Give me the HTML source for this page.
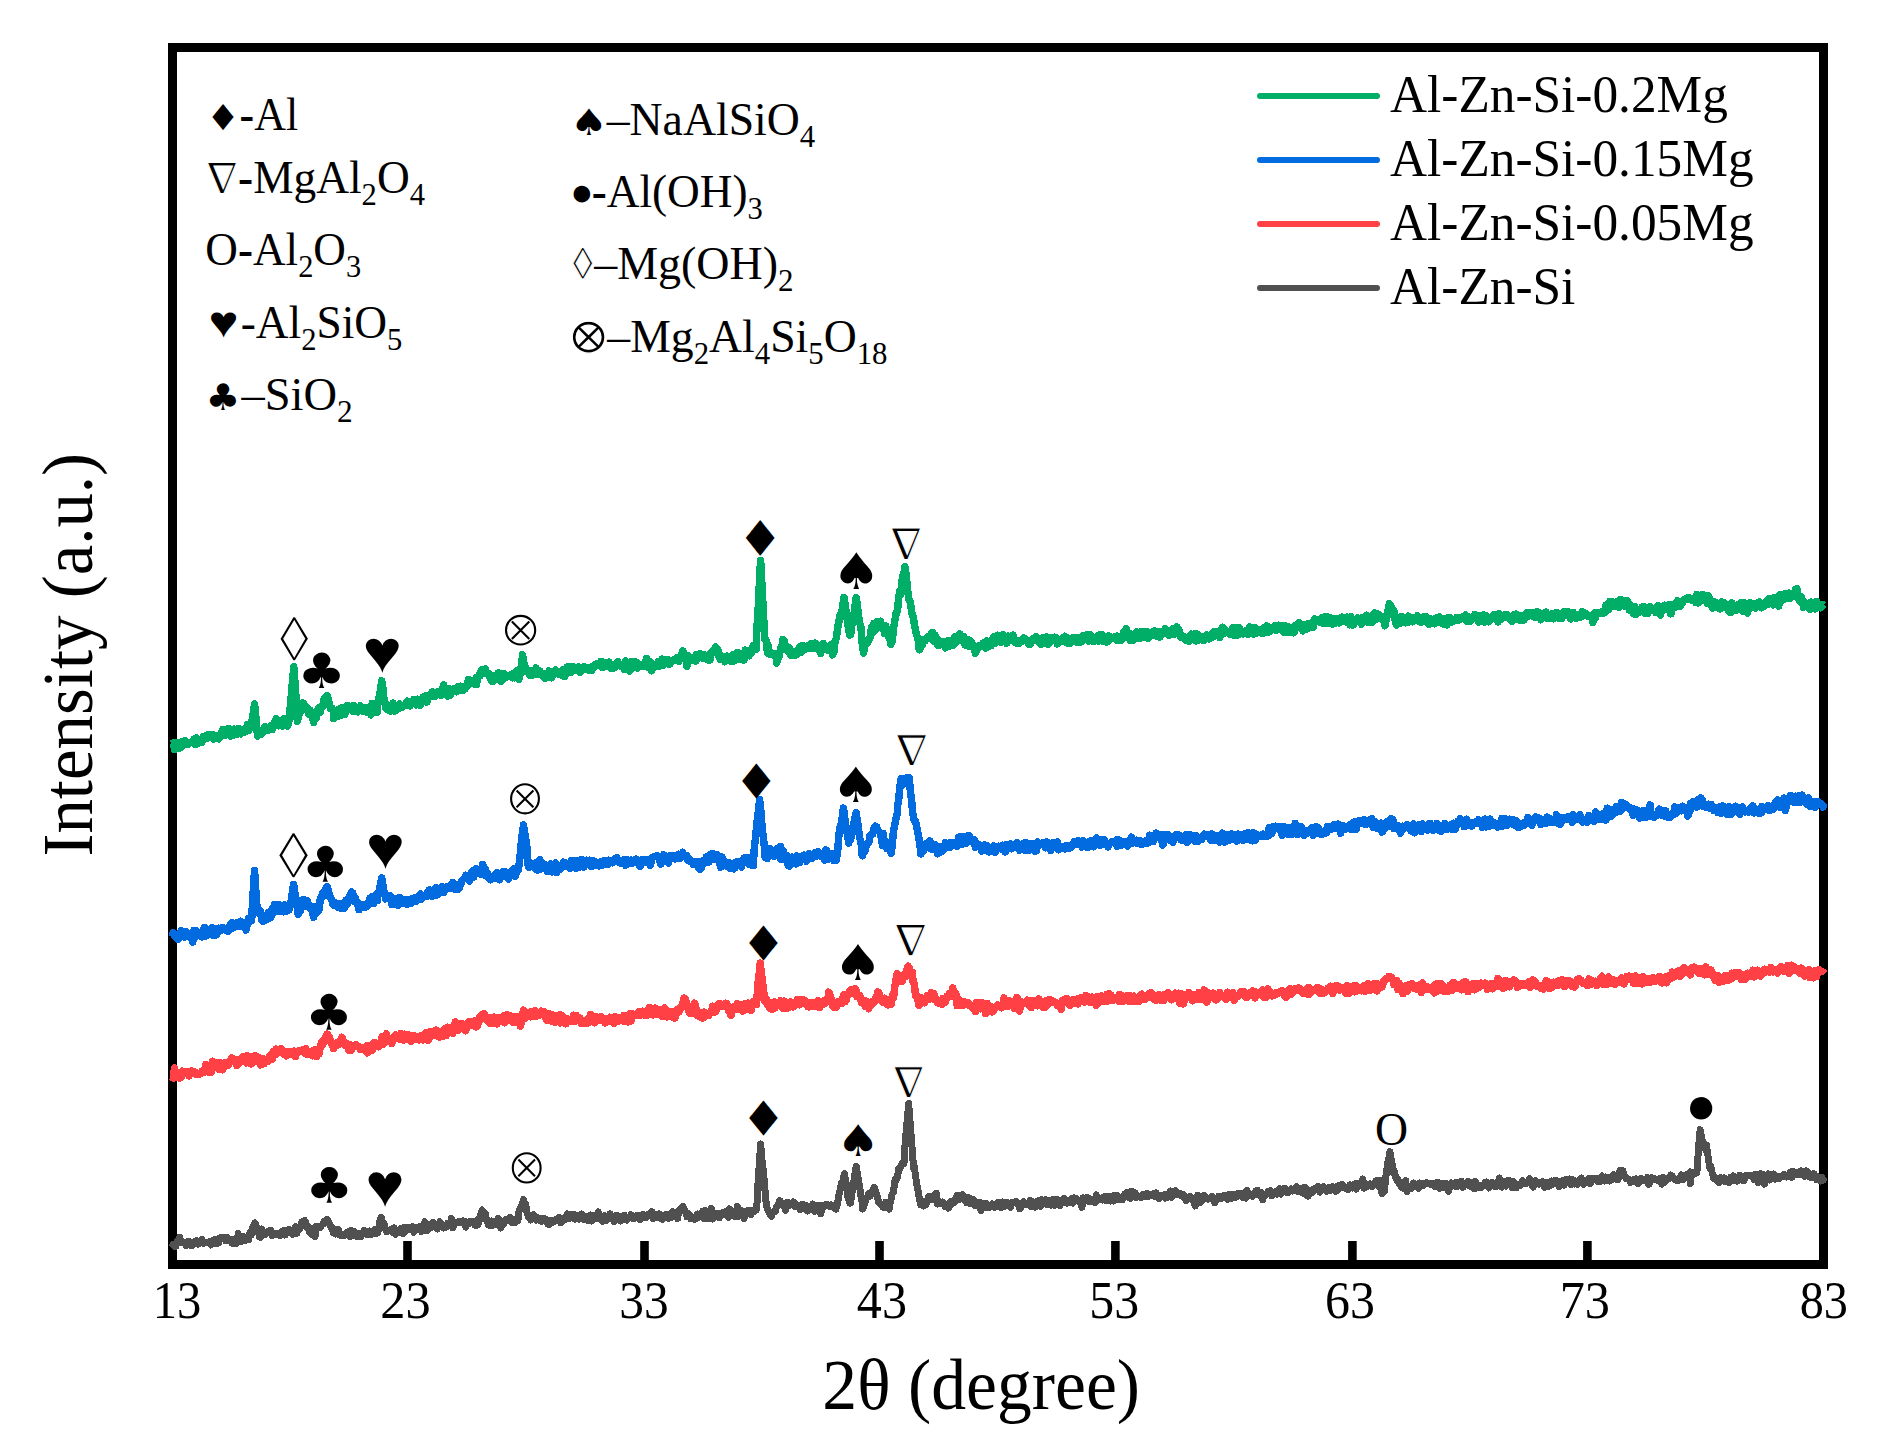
<!DOCTYPE html>
<html><head><meta charset="utf-8"><title>XRD patterns</title>
<style>html,body{margin:0;padding:0;background:#fff;overflow:hidden;}svg{display:block;}</style>
</head><body>
<svg width="1884" height="1453" viewBox="0 0 1884 1453">
<rect x="0" y="0" width="1884" height="1453" fill="#fff"/>
<rect x="172.5" y="47.5" width="1651" height="1217" fill="none" stroke="#000" stroke-width="9"/>
<path d="M172.0,1247.2 L173.3,1244.5 L174.6,1246.6 L175.9,1246.5 L177.2,1241.1 L178.5,1242.7 L179.8,1237.3 L181.1,1242.6 L182.4,1242.1 L183.7,1242.2 L185.0,1243.4 L186.3,1245.6 L187.6,1241.3 L188.9,1241.1 L190.2,1245.2 L191.5,1245.8 L192.8,1243.9 L194.1,1243.6 L195.4,1241.3 L196.7,1240.7 L198.0,1244.2 L199.3,1242.9 L200.6,1242.1 L201.9,1239.2 L203.2,1243.3 L204.5,1242.3 L205.8,1242.7 L207.1,1242.2 L208.4,1241.9 L209.7,1241.9 L211.0,1245.0 L212.3,1241.7 L212.5,1240.6 L213.6,1242.4 L214.9,1239.4 L216.2,1243.7 L217.5,1243.6 L218.8,1242.8 L220.1,1237.7 L221.4,1238.1 L222.7,1237.7 L224.0,1238.3 L225.3,1240.4 L226.6,1237.3 L227.9,1238.3 L229.2,1240.7 L230.5,1239.7 L231.8,1243.2 L233.1,1239.4 L234.4,1241.1 L235.7,1243.8 L237.0,1241.4 L238.3,1233.6 L239.6,1241.4 L240.9,1236.0 L242.2,1241.1 L243.5,1236.7 L244.8,1240.6 L246.1,1237.9 L247.4,1238.5 L248.6,1239.7 L248.7,1237.1 L250.0,1232.1 L251.3,1235.2 L252.6,1227.0 L253.9,1226.4 L254.9,1222.8 L255.2,1223.6 L256.5,1226.3 L257.8,1232.8 L259.0,1233.9 L259.1,1237.0 L260.4,1237.4 L261.7,1229.0 L263.0,1232.4 L264.3,1234.9 L265.6,1234.1 L266.9,1233.2 L268.2,1231.3 L269.5,1230.4 L270.8,1230.2 L272.1,1235.6 L273.4,1234.3 L274.7,1234.7 L276.0,1233.2 L277.3,1233.9 L278.6,1234.9 L279.9,1235.6 L281.2,1231.9 L282.5,1231.0 L283.8,1230.4 L285.1,1235.0 L286.4,1231.2 L287.7,1229.8 L289.0,1229.3 L290.3,1232.1 L291.6,1231.7 L292.9,1234.3 L294.2,1231.7 L295.5,1226.6 L296.8,1233.6 L297.4,1227.4 L298.1,1229.5 L299.4,1229.5 L300.7,1227.1 L302.0,1221.7 L303.3,1223.2 L304.6,1220.8 L304.8,1220.7 L305.9,1223.2 L307.2,1227.9 L308.5,1226.4 L309.8,1232.5 L311.1,1234.2 L311.2,1231.5 L312.4,1228.9 L313.7,1230.7 L315.0,1236.8 L316.3,1226.6 L317.6,1228.2 L318.9,1226.2 L320.2,1227.8 L321.5,1225.4 L322.8,1224.4 L324.1,1221.1 L325.4,1221.8 L326.7,1220.3 L327.1,1219.6 L328.0,1220.7 L329.3,1223.9 L330.6,1226.0 L331.9,1229.0 L333.2,1228.2 L333.5,1233.0 L334.5,1230.8 L335.8,1233.9 L337.1,1232.3 L338.4,1229.3 L339.7,1235.0 L341.0,1235.3 L342.3,1234.3 L343.6,1235.4 L344.9,1235.3 L346.2,1232.7 L347.5,1233.1 L348.8,1231.7 L350.1,1236.5 L351.4,1230.4 L352.7,1231.8 L354.0,1231.3 L355.3,1236.0 L356.6,1236.6 L357.9,1233.7 L359.2,1236.7 L360.5,1233.9 L361.0,1236.7 L361.8,1234.4 L363.1,1234.0 L364.4,1230.3 L365.7,1232.1 L367.0,1234.6 L368.3,1232.4 L369.6,1231.0 L370.9,1234.8 L372.2,1232.4 L373.5,1233.8 L374.8,1229.4 L376.1,1233.9 L377.4,1230.4 L377.5,1233.1 L378.7,1229.8 L380.0,1220.2 L381.3,1217.5 L382.6,1222.2 L383.9,1223.4 L385.2,1228.7 L386.5,1231.8 L386.6,1231.7 L387.8,1230.4 L389.1,1230.9 L390.4,1230.3 L391.7,1229.0 L393.0,1232.7 L394.3,1227.9 L395.6,1234.4 L396.9,1232.3 L398.2,1230.3 L399.5,1231.9 L400.8,1228.6 L402.1,1233.0 L403.4,1233.6 L404.7,1227.3 L406.0,1230.8 L407.3,1228.0 L408.6,1227.8 L409.9,1229.8 L411.2,1227.2 L412.5,1226.8 L413.8,1232.3 L415.1,1227.2 L416.4,1228.9 L417.7,1228.6 L419.0,1229.4 L420.3,1226.5 L421.6,1231.6 L422.9,1228.4 L424.2,1226.3 L424.8,1221.7 L425.5,1226.7 L426.8,1230.7 L428.1,1229.8 L429.4,1224.8 L430.7,1225.0 L432.0,1227.2 L433.3,1222.3 L434.6,1224.5 L435.9,1227.5 L437.2,1228.9 L438.5,1227.2 L439.8,1221.7 L441.1,1226.6 L442.4,1224.7 L443.7,1228.0 L445.0,1226.9 L446.3,1227.2 L447.6,1223.4 L448.9,1223.9 L450.2,1225.5 L451.5,1218.3 L452.8,1227.8 L454.1,1223.5 L455.4,1223.3 L456.7,1222.5 L458.0,1223.0 L459.3,1221.1 L460.6,1221.7 L461.9,1222.8 L463.2,1220.9 L464.5,1223.7 L465.8,1227.2 L467.1,1222.0 L468.4,1224.1 L469.7,1221.4 L471.0,1221.2 L472.3,1222.4 L473.6,1221.3 L474.9,1225.2 L476.2,1225.0 L477.5,1225.1 L477.9,1219.8 L478.8,1223.1 L480.1,1217.1 L481.4,1212.4 L482.1,1210.0 L482.7,1210.8 L484.0,1215.7 L485.3,1213.6 L486.6,1220.7 L487.9,1221.9 L488.5,1225.0 L489.2,1223.2 L490.5,1225.6 L491.8,1221.0 L493.1,1225.3 L494.4,1221.4 L495.7,1224.7 L497.0,1221.4 L498.3,1218.5 L499.6,1221.8 L500.9,1228.0 L502.2,1221.2 L503.5,1224.1 L504.8,1221.7 L506.1,1219.7 L507.4,1220.6 L508.7,1220.0 L510.0,1217.5 L511.3,1222.3 L512.6,1219.0 L513.9,1222.7 L515.2,1222.8 L516.5,1219.2 L517.8,1220.8 L518.2,1218.5 L519.1,1210.8 L520.4,1208.0 L521.7,1205.7 L523.0,1201.1 L523.5,1199.4 L524.3,1202.8 L525.6,1204.1 L526.9,1211.7 L528.2,1215.9 L528.8,1217.6 L529.5,1217.1 L530.8,1219.9 L532.1,1217.2 L533.4,1214.8 L534.7,1217.4 L536.0,1220.1 L537.3,1217.3 L538.6,1218.3 L539.9,1220.7 L541.2,1221.4 L542.5,1218.5 L543.8,1218.4 L545.1,1220.7 L546.4,1219.8 L547.7,1224.0 L549.0,1224.5 L550.3,1221.2 L551.6,1220.2 L552.2,1221.7 L552.9,1222.1 L554.2,1221.8 L555.5,1220.2 L556.8,1219.0 L558.1,1219.8 L559.4,1217.5 L560.7,1222.9 L562.0,1220.4 L563.3,1218.8 L564.6,1219.9 L565.9,1217.7 L567.2,1213.9 L568.5,1216.0 L569.1,1214.6 L569.8,1218.3 L571.1,1215.0 L572.4,1215.3 L573.7,1214.2 L575.0,1219.2 L576.3,1215.6 L577.6,1215.8 L578.9,1219.2 L580.2,1218.7 L581.5,1213.9 L582.8,1215.0 L584.1,1219.4 L585.4,1216.6 L586.7,1219.6 L588.0,1220.9 L589.3,1216.3 L590.6,1215.1 L591.9,1221.0 L593.2,1215.4 L594.5,1215.2 L595.8,1218.4 L597.1,1218.6 L598.4,1211.9 L599.7,1218.3 L601.0,1217.7 L602.3,1220.3 L602.5,1221.4 L603.6,1219.3 L604.9,1215.6 L606.2,1220.9 L607.5,1219.1 L608.8,1218.0 L610.1,1213.8 L611.4,1218.8 L612.7,1218.7 L614.0,1221.4 L615.3,1219.4 L616.6,1215.3 L617.9,1218.6 L619.2,1216.5 L620.5,1221.1 L621.8,1217.1 L623.1,1219.7 L624.4,1215.3 L625.7,1217.3 L627.0,1220.0 L628.3,1217.5 L629.6,1217.6 L630.9,1214.8 L632.2,1215.9 L633.5,1218.7 L634.8,1218.2 L636.1,1216.3 L637.4,1215.3 L638.7,1215.8 L640.0,1219.5 L641.3,1216.4 L642.6,1214.4 L643.9,1214.6 L645.2,1217.9 L646.5,1217.6 L647.8,1214.5 L649.1,1213.8 L650.4,1215.9 L651.7,1211.5 L653.0,1218.7 L654.3,1217.2 L655.5,1214.2 L655.6,1216.6 L656.9,1216.7 L658.2,1217.5 L659.5,1213.9 L660.8,1218.3 L662.1,1219.4 L663.4,1217.3 L664.7,1216.1 L666.0,1214.6 L667.3,1217.3 L668.6,1218.5 L669.9,1214.5 L671.2,1217.9 L672.5,1211.7 L673.8,1215.1 L675.1,1212.2 L676.4,1212.0 L677.7,1218.6 L678.0,1215.4 L679.0,1210.2 L680.3,1209.5 L681.6,1208.3 L682.8,1206.5 L682.9,1206.6 L684.2,1208.8 L685.5,1211.9 L686.8,1214.6 L687.0,1216.8 L688.1,1213.5 L689.4,1214.7 L690.7,1218.8 L692.0,1217.3 L693.3,1217.3 L694.6,1219.4 L695.9,1218.7 L697.2,1214.0 L698.5,1217.5 L699.8,1215.4 L701.1,1216.7 L702.4,1211.5 L703.7,1218.2 L705.0,1210.5 L706.3,1214.4 L707.6,1218.7 L708.9,1214.3 L710.2,1217.8 L711.5,1208.5 L712.8,1219.0 L714.1,1213.0 L715.4,1213.1 L716.7,1216.2 L718.0,1214.4 L719.3,1217.9 L720.6,1213.2 L721.9,1215.4 L723.2,1212.2 L724.5,1214.3 L725.8,1211.8 L727.1,1214.8 L728.4,1217.3 L729.7,1208.9 L731.0,1213.9 L732.3,1211.2 L733.6,1216.0 L734.9,1211.9 L736.2,1216.8 L737.5,1206.4 L738.8,1216.5 L740.1,1209.9 L741.4,1213.1 L742.7,1214.6 L744.0,1218.7 L745.3,1211.4 L746.6,1212.2 L747.9,1210.1 L749.2,1210.2 L750.5,1210.8 L751.1,1214.6 L751.8,1210.5 L753.1,1211.9 L754.4,1211.7 L755.7,1208.5 L756.4,1209.9 L757.0,1203.1 L758.3,1177.4 L759.6,1160.3 L760.6,1143.9 L760.9,1147.0 L762.2,1161.7 L763.5,1172.4 L764.8,1187.9 L766.1,1202.3 L767.0,1207.9 L767.4,1209.2 L768.7,1211.4 L770.0,1214.6 L771.3,1216.3 L772.3,1212.3 L772.6,1212.9 L773.9,1212.4 L775.2,1211.5 L776.5,1206.9 L777.8,1205.6 L779.1,1201.9 L779.7,1200.5 L780.4,1201.9 L781.7,1202.6 L783.0,1206.0 L784.3,1204.8 L785.6,1210.4 L786.9,1202.4 L788.2,1202.4 L789.5,1205.3 L790.8,1204.3 L792.1,1204.5 L793.4,1201.9 L794.7,1206.5 L796.0,1207.0 L797.3,1204.9 L798.6,1205.9 L799.9,1209.5 L801.2,1208.3 L802.5,1204.2 L803.8,1208.4 L805.1,1209.4 L806.4,1205.6 L807.7,1211.0 L809.0,1207.5 L810.3,1207.9 L811.6,1207.9 L812.9,1204.0 L814.2,1207.1 L814.8,1211.4 L815.5,1205.6 L816.8,1205.4 L818.1,1208.6 L819.4,1205.6 L820.7,1213.8 L822.0,1209.5 L823.3,1205.4 L824.6,1206.6 L825.9,1204.5 L827.2,1204.6 L828.5,1205.5 L829.8,1206.5 L831.1,1204.9 L832.4,1206.1 L833.7,1207.3 L835.0,1205.8 L836.0,1209.1 L836.3,1207.0 L837.6,1203.3 L838.9,1194.7 L840.2,1189.7 L841.5,1182.4 L842.8,1181.5 L844.1,1175.1 L844.5,1173.6 L845.4,1179.3 L846.7,1186.1 L848.0,1197.8 L849.3,1201.6 L849.8,1203.1 L850.6,1203.0 L851.9,1192.6 L853.2,1187.4 L854.5,1175.9 L855.8,1169.2 L856.2,1166.2 L857.1,1172.2 L858.4,1179.3 L859.7,1187.0 L861.0,1197.1 L862.3,1202.2 L862.5,1209.1 L863.6,1206.9 L864.9,1202.8 L866.2,1198.8 L867.5,1196.6 L868.8,1193.3 L870.1,1196.0 L871.4,1193.0 L872.7,1190.3 L874.0,1187.8 L874.2,1187.4 L875.3,1190.8 L876.6,1194.8 L877.9,1198.7 L878.5,1201.9 L879.2,1202.9 L880.5,1204.2 L881.8,1204.2 L883.1,1207.4 L884.4,1207.4 L885.7,1202.4 L887.0,1206.7 L888.3,1206.9 L889.1,1209.1 L889.6,1205.2 L890.9,1200.4 L892.2,1193.8 L893.5,1191.9 L894.8,1181.0 L895.5,1179.1 L896.1,1180.6 L897.4,1177.3 L898.7,1168.9 L900.0,1168.8 L901.3,1165.0 L902.6,1162.6 L903.9,1162.7 L904.0,1163.4 L905.2,1142.1 L906.5,1127.5 L907.8,1114.3 L908.6,1103.5 L909.1,1109.5 L910.4,1125.8 L911.7,1142.8 L913.0,1160.3 L913.5,1168.0 L914.3,1166.7 L915.6,1176.0 L916.9,1185.0 L918.2,1191.1 L919.5,1199.6 L920.8,1204.7 L921.0,1204.2 L922.1,1205.3 L923.4,1206.0 L924.7,1201.7 L926.0,1204.7 L927.3,1200.7 L928.6,1196.8 L929.9,1199.0 L931.2,1198.2 L931.5,1199.7 L932.5,1195.9 L933.8,1197.3 L935.1,1199.4 L936.4,1193.1 L937.7,1204.1 L939.0,1203.3 L940.3,1203.8 L941.6,1202.5 L942.9,1202.0 L944.2,1203.6 L945.5,1206.9 L946.4,1206.7 L946.8,1204.9 L948.1,1208.1 L949.4,1206.6 L950.7,1201.5 L952.0,1203.7 L953.3,1201.5 L954.6,1202.1 L955.9,1197.7 L957.2,1195.3 L958.5,1199.9 L959.2,1198.6 L959.8,1196.9 L961.1,1195.4 L962.4,1194.8 L963.7,1197.9 L964.3,1200.0 L965.0,1198.8 L966.3,1202.5 L967.6,1197.3 L968.9,1203.2 L970.2,1198.2 L971.5,1203.3 L972.8,1199.4 L974.1,1200.5 L975.4,1205.9 L976.7,1204.3 L978.0,1202.0 L979.3,1202.1 L980.6,1208.4 L981.0,1210.7 L981.9,1204.0 L983.2,1208.2 L984.5,1203.5 L985.8,1206.6 L987.1,1204.0 L988.4,1207.9 L989.7,1206.2 L991.0,1206.8 L992.3,1203.9 L993.6,1204.3 L994.9,1207.3 L996.2,1204.3 L997.5,1202.8 L998.8,1202.1 L1000.1,1206.3 L1001.4,1207.7 L1002.7,1202.0 L1004.0,1206.8 L1005.3,1202.3 L1006.6,1202.4 L1007.9,1204.3 L1009.2,1203.5 L1010.5,1207.3 L1011.8,1202.6 L1013.1,1202.0 L1014.4,1202.8 L1015.7,1201.4 L1017.0,1202.2 L1018.3,1203.9 L1019.6,1208.7 L1020.9,1207.5 L1022.2,1204.2 L1023.5,1201.8 L1024.8,1204.5 L1026.1,1204.9 L1027.4,1203.3 L1028.7,1203.7 L1030.0,1200.6 L1031.3,1206.6 L1032.6,1205.9 L1033.9,1202.1 L1035.2,1207.2 L1036.5,1205.1 L1037.8,1200.9 L1039.1,1205.2 L1040.4,1206.4 L1041.7,1199.6 L1043.0,1201.2 L1044.3,1203.1 L1045.5,1202.2 L1045.6,1199.5 L1046.9,1204.7 L1048.2,1204.3 L1049.5,1200.7 L1050.8,1205.1 L1052.1,1203.0 L1053.4,1199.5 L1054.7,1205.3 L1056.0,1204.6 L1057.3,1199.5 L1058.6,1205.3 L1059.9,1205.5 L1061.2,1202.6 L1062.5,1200.1 L1063.8,1198.5 L1065.1,1199.7 L1066.4,1203.2 L1067.7,1203.2 L1069.0,1201.4 L1070.3,1200.2 L1071.6,1198.7 L1072.9,1203.1 L1074.2,1197.8 L1075.5,1198.2 L1076.8,1198.9 L1078.1,1200.5 L1079.4,1201.9 L1080.7,1201.3 L1082.0,1207.4 L1083.3,1197.8 L1084.6,1201.2 L1085.9,1200.6 L1087.2,1197.5 L1088.5,1201.2 L1089.8,1198.9 L1091.1,1201.6 L1092.4,1199.4 L1093.7,1200.0 L1095.0,1202.8 L1096.3,1194.9 L1097.6,1200.4 L1098.9,1199.6 L1100.2,1198.4 L1101.5,1198.0 L1102.8,1199.9 L1104.1,1198.2 L1105.4,1196.2 L1106.7,1200.9 L1108.0,1199.3 L1109.3,1196.4 L1110.6,1201.1 L1111.9,1196.9 L1113.2,1201.0 L1114.5,1195.2 L1115.8,1195.9 L1117.1,1195.4 L1118.4,1199.6 L1119.7,1199.4 L1121.0,1200.0 L1122.3,1199.9 L1123.6,1195.4 L1124.9,1194.0 L1126.2,1195.8 L1127.5,1192.3 L1128.8,1197.3 L1130.1,1198.4 L1131.4,1191.1 L1132.7,1195.1 L1134.0,1195.2 L1135.3,1192.9 L1136.3,1197.5 L1136.6,1197.5 L1137.9,1196.6 L1139.2,1196.9 L1140.5,1197.6 L1141.8,1197.2 L1143.1,1194.7 L1144.4,1195.9 L1145.7,1196.4 L1147.0,1193.3 L1148.3,1196.7 L1149.6,1194.6 L1150.9,1195.8 L1152.2,1195.7 L1153.5,1193.9 L1154.8,1196.5 L1156.1,1192.8 L1157.4,1197.0 L1158.7,1198.8 L1160.0,1196.7 L1161.3,1195.1 L1162.6,1195.3 L1163.9,1194.9 L1165.2,1198.1 L1166.5,1194.1 L1167.8,1197.3 L1169.1,1196.8 L1170.4,1190.9 L1171.7,1197.4 L1173.0,1194.9 L1174.3,1192.7 L1175.6,1190.5 L1176.9,1194.5 L1178.2,1194.0 L1179.5,1193.3 L1180.8,1195.3 L1182.1,1196.2 L1183.4,1194.3 L1184.7,1196.5 L1186.0,1200.9 L1187.3,1199.6 L1188.6,1198.7 L1189.9,1196.5 L1191.2,1197.7 L1192.5,1198.9 L1193.8,1202.2 L1195.1,1206.0 L1196.4,1203.0 L1197.7,1195.2 L1199.0,1201.5 L1200.3,1202.3 L1201.6,1201.1 L1202.9,1198.1 L1204.2,1195.4 L1205.5,1198.2 L1206.8,1198.6 L1208.1,1199.3 L1209.4,1198.2 L1210.7,1198.2 L1212.0,1196.5 L1213.3,1199.8 L1214.6,1202.7 L1215.9,1200.2 L1217.2,1199.8 L1218.5,1196.4 L1219.8,1197.1 L1221.1,1198.2 L1222.4,1196.0 L1223.7,1195.5 L1225.0,1195.3 L1226.3,1197.2 L1227.6,1199.3 L1228.9,1194.4 L1230.2,1195.2 L1231.5,1198.2 L1232.8,1194.2 L1234.1,1197.3 L1235.4,1197.6 L1236.7,1196.8 L1238.0,1193.3 L1239.3,1195.0 L1240.6,1193.4 L1241.9,1195.3 L1243.2,1197.8 L1244.5,1192.6 L1245.8,1198.2 L1247.1,1190.4 L1248.4,1194.3 L1249.7,1195.8 L1251.0,1194.8 L1252.3,1196.4 L1253.6,1195.1 L1254.9,1192.6 L1256.2,1190.6 L1257.5,1190.2 L1258.8,1195.3 L1260.1,1195.4 L1260.5,1196.2 L1261.4,1192.6 L1262.7,1199.7 L1264.0,1195.6 L1265.3,1195.1 L1266.6,1194.4 L1267.9,1191.5 L1269.2,1192.4 L1270.5,1190.5 L1271.8,1195.9 L1273.1,1193.9 L1274.4,1193.4 L1275.7,1191.7 L1277.0,1194.2 L1278.3,1190.9 L1279.6,1188.7 L1280.9,1194.1 L1282.2,1192.1 L1283.5,1188.9 L1284.8,1188.1 L1286.1,1190.3 L1287.4,1192.9 L1288.7,1191.8 L1290.0,1191.2 L1291.3,1188.8 L1292.6,1190.9 L1293.9,1189.8 L1295.2,1189.3 L1296.5,1186.7 L1297.8,1191.4 L1299.1,1189.2 L1300.4,1192.0 L1301.7,1188.4 L1303.0,1187.7 L1304.3,1194.0 L1305.6,1187.6 L1306.9,1189.2 L1308.2,1196.2 L1309.5,1191.0 L1310.8,1191.0 L1312.1,1192.9 L1313.4,1188.9 L1314.7,1189.2 L1316.0,1189.0 L1317.3,1186.7 L1318.6,1186.6 L1319.9,1192.2 L1321.2,1187.9 L1322.5,1187.0 L1323.8,1186.7 L1325.1,1188.8 L1326.4,1191.2 L1327.7,1189.5 L1329.0,1187.5 L1330.3,1190.4 L1331.6,1187.3 L1332.1,1187.7 L1332.9,1186.8 L1334.2,1190.2 L1335.5,1191.4 L1336.8,1191.0 L1338.1,1185.7 L1339.4,1188.6 L1340.7,1187.5 L1342.0,1184.3 L1343.3,1185.7 L1344.6,1186.8 L1345.9,1188.7 L1347.2,1187.5 L1348.5,1189.6 L1349.8,1184.8 L1351.1,1186.8 L1352.4,1188.0 L1353.7,1184.9 L1355.0,1183.7 L1356.3,1189.1 L1357.6,1183.7 L1358.9,1186.0 L1360.2,1185.4 L1361.5,1182.4 L1362.8,1179.1 L1364.1,1188.1 L1365.4,1183.5 L1366.7,1186.9 L1368.0,1185.2 L1369.3,1183.9 L1370.6,1183.9 L1371.9,1186.7 L1373.2,1184.2 L1374.5,1183.7 L1375.8,1180.9 L1377.1,1184.6 L1378.4,1186.3 L1379.7,1180.3 L1379.9,1181.5 L1381.0,1186.1 L1382.0,1193.6 L1382.3,1186.2 L1383.6,1188.6 L1384.5,1191.4 L1384.9,1186.4 L1386.2,1173.6 L1386.8,1170.8 L1387.5,1163.0 L1388.3,1160.8 L1388.8,1158.3 L1389.9,1151.6 L1390.1,1152.7 L1391.4,1161.1 L1391.6,1161.2 L1392.7,1166.0 L1393.5,1172.8 L1394.0,1170.1 L1395.3,1176.1 L1396.0,1177.9 L1396.6,1180.0 L1397.9,1179.2 L1399.1,1183.7 L1399.2,1182.2 L1400.5,1185.1 L1401.8,1187.4 L1403.1,1188.1 L1404.4,1186.0 L1405.7,1180.5 L1407.0,1191.7 L1408.3,1186.7 L1409.6,1188.0 L1410.9,1188.7 L1412.2,1187.6 L1413.5,1183.0 L1414.8,1184.3 L1416.1,1184.6 L1417.4,1184.9 L1418.7,1188.3 L1420.0,1183.0 L1421.3,1184.5 L1422.6,1183.6 L1423.9,1185.2 L1425.2,1183.4 L1426.5,1182.5 L1427.8,1183.0 L1429.1,1183.6 L1430.4,1184.5 L1431.7,1183.5 L1433.0,1183.7 L1434.3,1186.2 L1435.6,1183.0 L1436.9,1186.8 L1438.2,1182.3 L1439.5,1188.4 L1440.8,1183.9 L1442.1,1187.2 L1443.4,1183.6 L1444.7,1187.5 L1446.0,1183.5 L1447.3,1184.5 L1448.6,1191.3 L1449.9,1186.4 L1451.2,1182.8 L1452.5,1183.6 L1453.8,1183.7 L1455.1,1183.0 L1456.4,1186.9 L1457.7,1182.3 L1459.0,1183.0 L1460.3,1185.8 L1461.6,1181.3 L1462.9,1187.4 L1464.2,1184.1 L1465.5,1183.8 L1466.8,1184.1 L1468.1,1181.2 L1469.4,1186.0 L1470.7,1182.1 L1472.0,1187.2 L1473.3,1182.9 L1474.6,1188.9 L1475.5,1181.5 L1475.9,1188.1 L1477.2,1187.9 L1478.5,1187.8 L1479.8,1185.8 L1481.1,1187.5 L1482.4,1186.2 L1483.7,1185.4 L1485.0,1182.4 L1486.3,1182.0 L1487.6,1186.1 L1488.9,1187.9 L1490.2,1183.1 L1491.5,1182.5 L1492.8,1182.7 L1494.1,1185.7 L1495.4,1186.7 L1496.7,1186.1 L1498.0,1183.1 L1499.3,1178.0 L1500.6,1185.8 L1501.9,1187.1 L1503.2,1184.9 L1504.5,1181.7 L1505.8,1186.1 L1507.1,1181.0 L1508.4,1182.0 L1509.7,1180.6 L1511.0,1184.1 L1512.3,1187.9 L1513.6,1181.8 L1514.9,1183.1 L1516.2,1188.0 L1517.5,1186.1 L1518.8,1184.8 L1520.1,1185.5 L1521.4,1183.0 L1522.7,1180.7 L1524.0,1183.8 L1525.3,1183.5 L1526.6,1183.3 L1527.9,1182.3 L1529.2,1178.7 L1530.5,1180.8 L1531.8,1185.2 L1533.1,1187.0 L1534.4,1184.8 L1535.7,1180.8 L1537.0,1182.3 L1538.3,1184.0 L1539.6,1184.0 L1540.9,1183.3 L1542.2,1181.7 L1543.5,1185.3 L1544.8,1187.3 L1546.1,1184.5 L1547.4,1182.3 L1548.7,1186.6 L1550.0,1182.2 L1551.3,1181.1 L1552.6,1184.3 L1553.9,1184.0 L1555.2,1180.1 L1556.5,1183.5 L1557.8,1183.4 L1559.1,1186.5 L1560.4,1181.1 L1561.7,1181.8 L1563.0,1180.6 L1564.3,1185.2 L1565.6,1179.5 L1566.9,1180.3 L1568.2,1181.6 L1569.5,1179.0 L1570.8,1179.4 L1571.1,1184.5 L1572.1,1181.2 L1573.4,1180.0 L1574.7,1184.0 L1576.0,1181.4 L1577.3,1184.3 L1578.6,1180.7 L1579.9,1182.5 L1581.2,1178.0 L1582.5,1182.5 L1583.8,1184.2 L1585.1,1183.1 L1586.4,1182.0 L1587.7,1181.3 L1589.0,1178.2 L1590.3,1183.8 L1591.6,1179.8 L1592.9,1178.5 L1594.2,1178.1 L1595.5,1178.8 L1596.8,1180.9 L1598.1,1178.9 L1599.4,1181.9 L1600.7,1178.7 L1602.0,1176.0 L1603.3,1178.9 L1604.6,1180.9 L1605.9,1177.0 L1607.2,1177.9 L1608.5,1177.7 L1609.8,1181.0 L1611.1,1180.1 L1612.4,1178.5 L1613.7,1174.7 L1615.0,1178.6 L1616.3,1179.3 L1617.6,1179.7 L1618.8,1177.8 L1618.9,1172.9 L1620.2,1170.4 L1621.2,1170.6 L1621.5,1172.3 L1622.8,1170.6 L1624.1,1175.5 L1625.4,1177.0 L1626.7,1179.0 L1628.0,1179.1 L1629.3,1179.6 L1630.6,1182.6 L1630.8,1181.3 L1631.9,1181.9 L1633.2,1179.9 L1634.5,1181.5 L1635.8,1178.9 L1637.1,1182.5 L1638.4,1183.6 L1639.7,1181.7 L1641.0,1178.3 L1642.3,1179.6 L1643.6,1180.8 L1644.9,1180.5 L1646.2,1179.7 L1647.5,1177.3 L1648.8,1184.4 L1650.1,1182.5 L1651.4,1177.8 L1652.7,1179.3 L1654.0,1178.6 L1655.3,1179.5 L1656.6,1179.2 L1657.9,1180.4 L1659.2,1178.8 L1660.5,1179.4 L1661.8,1184.2 L1663.1,1177.5 L1664.4,1182.3 L1665.7,1178.8 L1667.0,1179.6 L1668.3,1179.0 L1669.6,1178.6 L1670.9,1175.1 L1672.2,1175.8 L1673.5,1178.1 L1674.8,1179.3 L1676.1,1179.5 L1677.4,1180.7 L1678.7,1180.4 L1680.0,1178.5 L1681.3,1174.9 L1682.6,1179.8 L1683.9,1175.5 L1685.2,1176.2 L1686.5,1175.4 L1687.8,1174.0 L1689.1,1175.5 L1690.4,1183.6 L1690.5,1171.8 L1691.7,1173.4 L1693.0,1175.0 L1694.3,1172.3 L1695.6,1171.7 L1696.5,1173.1 L1696.9,1172.7 L1698.2,1153.1 L1698.3,1149.3 L1699.5,1136.7 L1700.1,1129.8 L1700.8,1133.7 L1702.0,1138.8 L1702.1,1140.5 L1703.4,1146.7 L1704.0,1145.7 L1704.7,1147.1 L1706.0,1150.8 L1706.5,1144.9 L1707.3,1151.3 L1708.5,1158.9 L1708.6,1161.0 L1709.9,1167.8 L1710.5,1165.8 L1711.2,1168.3 L1712.5,1174.3 L1713.8,1178.5 L1714.0,1177.5 L1715.1,1177.2 L1716.4,1180.5 L1717.7,1181.6 L1719.0,1182.1 L1719.1,1182.5 L1720.3,1177.7 L1721.6,1178.2 L1722.9,1180.5 L1724.2,1177.9 L1725.5,1181.8 L1726.8,1180.7 L1728.1,1179.1 L1729.4,1182.7 L1730.7,1177.1 L1732.0,1177.6 L1733.3,1175.9 L1734.6,1180.7 L1735.9,1179.8 L1737.2,1181.1 L1738.5,1180.2 L1739.8,1175.1 L1741.1,1176.6 L1742.4,1177.8 L1743.7,1180.8 L1745.0,1177.7 L1746.3,1175.3 L1747.6,1176.1 L1748.9,1175.7 L1750.2,1175.4 L1751.5,1175.8 L1752.8,1176.9 L1754.1,1179.9 L1755.4,1174.1 L1756.7,1176.5 L1758.0,1182.8 L1759.3,1175.5 L1760.6,1173.5 L1761.9,1174.9 L1763.2,1174.2 L1764.5,1184.2 L1765.8,1178.9 L1767.1,1175.4 L1768.4,1174.0 L1769.7,1180.1 L1771.0,1176.2 L1772.3,1175.1 L1773.6,1174.0 L1774.9,1179.2 L1776.2,1176.4 L1777.5,1176.6 L1778.8,1178.6 L1780.1,1176.6 L1781.4,1176.3 L1782.7,1175.4 L1784.0,1174.1 L1785.3,1176.5 L1786.0,1175.1 L1786.6,1177.1 L1787.9,1175.4 L1789.2,1176.1 L1790.5,1172.0 L1791.8,1177.5 L1793.1,1171.4 L1794.4,1175.1 L1795.7,1173.4 L1797.0,1172.7 L1798.3,1174.8 L1799.6,1172.8 L1800.3,1171.0 L1800.9,1170.8 L1802.2,1174.4 L1803.5,1171.3 L1804.8,1176.4 L1806.1,1170.7 L1807.4,1171.9 L1808.7,1176.4 L1810.0,1175.8 L1811.3,1177.5 L1812.6,1175.4 L1813.9,1173.8 L1815.2,1175.4 L1816.5,1179.6 L1817.8,1176.6 L1819.1,1177.2 L1820.4,1181.0 L1821.7,1177.3 L1823.0,1180.2 L1824.0,1176.8" fill="none" stroke="#505050" stroke-width="7.0" stroke-linejoin="round" stroke-linecap="butt" shape-rendering="crispEdges"/>
<path d="M172.0,1076.8 L173.3,1078.0 L174.6,1067.9 L175.9,1077.5 L177.2,1073.6 L178.5,1077.9 L179.8,1077.9 L181.1,1077.2 L182.4,1071.2 L183.7,1073.2 L185.0,1073.5 L186.3,1072.1 L187.6,1071.9 L188.9,1075.9 L190.2,1072.1 L191.5,1070.7 L192.8,1072.7 L194.1,1072.0 L195.4,1074.0 L196.7,1073.1 L198.0,1074.7 L199.3,1074.0 L200.6,1073.8 L201.9,1071.1 L203.2,1072.7 L204.5,1072.0 L205.8,1064.6 L207.1,1066.8 L208.4,1072.2 L209.7,1072.4 L211.0,1072.5 L212.3,1067.4 L212.5,1061.2 L213.6,1065.7 L214.9,1064.7 L216.2,1063.3 L217.5,1062.9 L218.8,1068.9 L220.1,1062.5 L221.4,1068.6 L222.7,1069.7 L224.0,1063.9 L225.3,1062.3 L226.6,1062.6 L227.9,1065.5 L229.2,1063.3 L230.5,1060.8 L231.8,1058.0 L233.1,1061.6 L234.4,1059.8 L235.7,1060.0 L237.0,1065.5 L238.3,1064.2 L239.6,1059.5 L240.9,1062.0 L242.2,1057.2 L243.5,1056.7 L244.8,1060.8 L246.1,1062.7 L247.4,1055.6 L248.7,1061.2 L250.0,1056.5 L251.3,1063.8 L252.6,1060.5 L253.9,1061.4 L254.9,1057.5 L255.2,1055.8 L256.5,1057.3 L257.8,1057.1 L259.1,1062.2 L260.4,1064.9 L261.3,1060.0 L261.7,1064.6 L263.0,1058.5 L264.3,1063.7 L265.6,1060.2 L266.9,1059.6 L268.2,1061.3 L269.5,1056.2 L270.8,1054.7 L272.1,1059.5 L273.4,1051.5 L274.7,1051.2 L276.0,1049.2 L276.2,1054.2 L277.3,1050.2 L278.6,1052.1 L279.9,1052.5 L281.2,1048.8 L282.5,1050.3 L283.8,1054.0 L285.1,1055.0 L286.4,1055.8 L287.7,1051.9 L289.0,1053.5 L290.3,1051.6 L291.6,1053.8 L292.9,1054.9 L294.2,1051.1 L295.5,1056.7 L296.8,1052.1 L298.1,1051.1 L299.4,1050.9 L300.7,1051.2 L302.0,1050.3 L303.3,1052.1 L304.6,1053.1 L305.9,1048.7 L307.2,1054.1 L308.5,1052.3 L309.8,1052.3 L311.1,1051.4 L312.4,1055.8 L313.7,1053.6 L315.0,1049.6 L316.3,1056.7 L317.6,1054.3 L318.6,1051.7 L318.9,1053.9 L320.2,1048.0 L321.5,1042.2 L322.8,1044.2 L324.1,1039.5 L325.4,1038.1 L326.7,1035.3 L327.1,1034.1 L328.0,1035.5 L329.3,1037.1 L330.6,1041.3 L331.9,1044.7 L333.2,1046.3 L333.5,1048.7 L334.5,1046.6 L335.8,1043.4 L337.1,1042.9 L338.4,1044.7 L339.7,1042.4 L341.0,1039.9 L342.0,1037.3 L342.3,1038.3 L343.6,1043.0 L344.9,1045.1 L346.2,1043.3 L347.5,1046.0 L348.8,1050.2 L350.1,1044.8 L351.4,1050.1 L352.7,1047.4 L354.0,1046.6 L355.3,1044.9 L356.6,1045.0 L357.9,1046.2 L359.2,1047.0 L360.5,1049.4 L361.8,1048.5 L363.1,1048.1 L364.4,1049.5 L365.7,1051.2 L367.0,1045.7 L367.5,1052.9 L368.3,1045.8 L369.6,1048.6 L370.9,1045.2 L372.2,1050.4 L373.5,1043.0 L374.8,1042.7 L376.1,1046.3 L377.4,1045.1 L378.7,1046.7 L380.0,1044.9 L381.3,1041.2 L382.3,1036.4 L382.6,1043.3 L383.9,1043.8 L385.2,1037.2 L386.5,1033.8 L387.8,1040.9 L389.1,1040.2 L390.4,1040.0 L391.7,1043.4 L393.0,1037.8 L394.3,1037.2 L395.6,1035.0 L396.9,1038.4 L398.2,1035.3 L399.5,1038.9 L400.8,1033.4 L402.1,1039.8 L403.4,1040.0 L404.7,1034.3 L406.0,1039.3 L407.3,1034.3 L408.6,1039.1 L409.9,1036.1 L411.2,1041.6 L412.5,1035.5 L413.8,1039.3 L415.1,1036.1 L416.4,1037.7 L417.7,1036.6 L419.0,1040.0 L420.3,1036.0 L421.6,1037.6 L422.9,1039.9 L424.2,1035.3 L424.8,1038.6 L425.5,1033.0 L426.8,1036.5 L428.1,1040.1 L429.4,1037.7 L430.7,1031.5 L432.0,1033.1 L433.3,1031.5 L434.6,1035.4 L435.9,1030.2 L437.2,1031.4 L438.5,1036.7 L439.8,1037.0 L441.1,1032.1 L442.4,1033.3 L443.7,1036.0 L445.0,1028.8 L446.3,1035.6 L447.6,1027.2 L448.9,1031.9 L450.2,1029.3 L451.5,1027.9 L452.8,1033.3 L454.1,1028.6 L455.4,1022.0 L456.7,1024.3 L458.0,1030.1 L459.3,1029.3 L460.6,1023.8 L461.9,1023.4 L463.2,1028.9 L464.5,1027.9 L465.8,1030.7 L467.1,1024.7 L468.4,1022.1 L469.7,1024.6 L471.0,1021.8 L472.3,1025.6 L473.6,1022.9 L474.9,1020.7 L475.7,1023.6 L476.2,1026.9 L477.5,1025.7 L478.8,1018.6 L480.1,1016.2 L481.4,1019.4 L482.7,1014.7 L483.2,1014.0 L484.0,1013.7 L485.3,1018.0 L486.6,1020.3 L487.9,1020.9 L489.2,1022.9 L490.5,1017.3 L491.8,1019.5 L492.7,1021.1 L493.1,1023.6 L494.4,1017.1 L495.7,1020.5 L497.0,1024.0 L498.3,1018.1 L499.6,1020.0 L500.9,1017.8 L502.2,1017.6 L503.5,1015.8 L504.8,1022.8 L506.1,1017.9 L507.4,1014.8 L508.7,1018.0 L509.7,1020.4 L510.0,1015.6 L511.3,1016.5 L512.6,1021.8 L513.9,1018.5 L515.2,1022.3 L516.5,1016.7 L517.8,1016.8 L519.1,1019.9 L520.3,1026.0 L520.4,1021.9 L521.7,1022.0 L523.0,1013.7 L523.5,1010.1 L524.3,1019.0 L525.6,1012.1 L526.9,1012.4 L528.2,1016.1 L529.5,1014.0 L530.8,1016.7 L532.1,1011.3 L533.4,1011.4 L534.7,1016.7 L535.2,1010.7 L536.0,1012.7 L537.3,1015.8 L538.6,1015.7 L539.9,1012.3 L541.2,1011.2 L542.5,1012.3 L543.8,1011.5 L545.1,1016.6 L546.4,1020.0 L547.7,1020.1 L549.0,1013.8 L550.3,1014.2 L551.6,1020.7 L552.2,1021.3 L552.9,1014.8 L554.2,1018.8 L555.5,1022.3 L556.8,1016.6 L558.1,1015.6 L559.4,1016.9 L560.0,1014.8 L560.7,1022.9 L562.0,1015.6 L563.3,1017.4 L564.6,1017.9 L565.9,1023.8 L567.2,1019.0 L568.5,1019.9 L569.8,1021.4 L571.1,1021.6 L572.4,1019.2 L573.7,1015.2 L575.0,1021.3 L576.3,1015.4 L577.6,1018.1 L578.9,1017.8 L580.2,1018.1 L581.5,1023.4 L582.8,1021.9 L584.1,1021.6 L585.4,1020.4 L586.7,1023.5 L588.0,1022.9 L589.3,1020.4 L590.6,1014.3 L591.9,1021.2 L593.2,1017.8 L594.5,1022.8 L595.8,1016.4 L597.1,1017.2 L598.4,1017.9 L599.7,1020.4 L601.0,1016.6 L602.3,1020.2 L603.6,1018.3 L604.9,1022.9 L606.2,1018.6 L607.5,1021.9 L608.8,1020.9 L610.1,1017.3 L611.4,1021.3 L612.7,1020.0 L614.0,1023.4 L615.3,1016.7 L616.6,1018.9 L617.9,1021.5 L619.2,1018.4 L620.5,1017.5 L621.8,1019.5 L623.1,1017.8 L623.7,1015.7 L624.4,1021.5 L625.7,1016.2 L627.0,1019.1 L628.3,1021.9 L629.6,1014.0 L630.9,1021.2 L632.2,1013.5 L633.5,1014.4 L634.8,1014.6 L636.1,1015.4 L637.4,1015.6 L638.7,1012.0 L640.0,1011.6 L641.3,1014.8 L642.6,1011.3 L643.9,1013.8 L645.2,1015.6 L646.5,1011.9 L647.8,1015.0 L649.1,1007.9 L650.4,1011.9 L651.3,1008.0 L651.7,1012.9 L653.0,1014.8 L654.3,1014.4 L655.6,1008.1 L656.9,1014.7 L658.2,1009.4 L659.5,1009.9 L660.8,1013.2 L662.1,1016.1 L663.4,1013.9 L664.7,1008.1 L666.0,1011.3 L667.3,1016.9 L668.6,1015.6 L669.9,1013.8 L671.2,1012.0 L672.5,1014.6 L673.8,1018.0 L675.1,1017.8 L676.4,1010.2 L677.7,1012.5 L678.9,1010.6 L679.0,1011.8 L680.3,1007.1 L681.6,1007.5 L682.9,1002.6 L684.2,998.1 L685.5,999.3 L686.8,1004.2 L688.1,1008.9 L689.4,1012.9 L689.5,1006.3 L690.7,1010.5 L692.0,1013.4 L693.3,1013.0 L694.6,1003.1 L695.9,1007.6 L697.2,1015.4 L698.5,1015.9 L699.8,1016.2 L701.1,1012.5 L702.4,1018.0 L703.7,1017.4 L704.4,1012.0 L705.0,1013.8 L706.3,1015.8 L707.6,1014.3 L708.9,1015.1 L710.2,1012.4 L711.5,1011.5 L712.8,1006.2 L714.1,1012.4 L715.4,1011.9 L716.7,1009.3 L718.0,1005.4 L719.2,1006.0 L719.3,1003.6 L720.6,1003.9 L721.9,1004.7 L723.2,1006.6 L724.5,1005.8 L725.8,1003.3 L727.1,1003.9 L728.4,1010.6 L729.7,1007.1 L731.0,1015.3 L732.3,1011.2 L733.6,1006.9 L734.9,1007.9 L736.2,1009.6 L737.5,1003.6 L738.8,1009.4 L740.1,1006.1 L741.4,1004.5 L742.7,1010.9 L744.0,1010.6 L745.3,1003.8 L746.6,1008.9 L747.9,1003.2 L749.2,1004.0 L750.5,1009.7 L751.1,1010.5 L751.8,1004.3 L753.1,1001.6 L754.4,1001.5 L755.7,1003.5 L756.4,1004.6 L757.0,997.9 L758.3,981.0 L759.6,970.2 L760.2,963.1 L760.9,969.4 L762.2,979.7 L763.5,990.3 L764.8,1000.9 L764.9,1000.3 L766.1,998.7 L767.4,1004.8 L768.7,1003.6 L770.0,1008.4 L771.3,1005.4 L772.3,1009.6 L772.6,1002.4 L773.9,1002.1 L775.2,1007.8 L776.5,1003.9 L777.8,1004.1 L779.1,1003.6 L780.4,1000.9 L781.7,1005.7 L783.0,1008.5 L784.3,1001.1 L785.6,1002.4 L786.9,1008.4 L788.2,1007.7 L789.5,1005.3 L790.8,1001.9 L792.1,1003.1 L793.4,1004.7 L793.5,1007.0 L794.7,1003.3 L796.0,1003.6 L797.3,999.4 L798.6,1000.6 L799.9,1004.8 L801.2,1000.1 L802.5,1003.5 L803.8,999.9 L805.1,1003.1 L806.4,1001.6 L807.7,1006.7 L809.0,1006.9 L810.3,1002.5 L811.6,1002.4 L812.9,1005.3 L814.2,1006.4 L815.5,1004.5 L816.8,1002.5 L818.1,1000.5 L819.4,1007.7 L820.7,1004.8 L822.0,1001.4 L823.3,1004.4 L824.6,1003.7 L825.4,1000.0 L825.9,1001.5 L827.2,1001.9 L828.5,998.6 L828.6,992.1 L829.8,994.4 L831.1,998.5 L832.4,1006.0 L833.7,1007.4 L833.9,1007.4 L835.0,1006.5 L836.3,1007.2 L837.6,1001.8 L838.9,1001.9 L840.2,1001.6 L841.5,1003.4 L842.8,998.0 L844.1,994.6 L845.4,1001.5 L846.6,999.3 L846.7,994.7 L848.0,995.1 L849.3,991.1 L850.6,990.1 L851.9,992.8 L853.2,989.5 L854.5,989.5 L855.1,988.6 L855.8,989.7 L857.1,996.7 L858.4,996.0 L859.7,995.6 L861.0,999.9 L861.5,1002.5 L862.3,1000.0 L863.6,1001.8 L864.9,1006.0 L866.2,1001.0 L867.5,1005.0 L867.9,1005.7 L868.8,1008.8 L870.1,1004.1 L871.4,1004.5 L872.7,1001.5 L874.0,1002.7 L875.3,998.7 L876.6,996.6 L877.9,991.8 L878.5,999.5 L879.2,993.4 L880.5,999.1 L881.8,1001.5 L883.1,1002.4 L884.4,998.2 L885.7,1002.1 L887.0,1004.4 L888.3,1004.9 L889.6,999.5 L890.9,1001.6 L891.2,1004.2 L892.2,996.4 L893.5,998.3 L894.8,986.5 L896.1,980.3 L896.5,976.4 L897.4,973.5 L898.7,981.1 L900.0,980.5 L901.3,978.3 L901.8,981.5 L902.6,980.6 L903.9,975.5 L905.2,976.8 L906.5,970.1 L907.8,967.3 L908.2,966.3 L909.1,967.7 L910.4,972.9 L911.7,972.4 L912.4,972.4 L913.0,981.6 L914.3,984.3 L915.6,995.9 L916.9,996.1 L918.2,1001.1 L918.8,1005.3 L919.5,1004.3 L920.8,997.7 L922.1,1000.7 L923.4,999.4 L924.7,1002.7 L926.0,1000.0 L927.3,995.4 L928.6,996.3 L929.4,999.2 L929.9,994.7 L931.2,992.9 L932.5,994.9 L933.8,993.5 L935.1,999.9 L936.4,998.8 L937.7,1002.6 L939.0,1003.6 L940.3,1001.5 L941.6,1003.2 L942.2,1004.0 L942.9,998.5 L944.2,1000.1 L945.5,1002.2 L946.8,996.7 L948.1,997.1 L949.4,993.6 L950.7,994.8 L952.0,996.1 L952.8,988.1 L953.3,995.6 L954.6,992.5 L955.9,994.2 L957.2,1005.7 L958.5,1002.9 L959.6,1000.1 L959.8,1003.6 L961.1,1005.5 L962.4,1005.5 L963.7,1004.8 L965.0,1002.0 L966.3,1003.0 L967.6,1004.6 L968.9,1003.3 L970.2,1004.7 L971.5,1007.1 L972.8,1005.6 L974.1,1006.5 L975.4,1011.7 L976.7,1002.3 L978.0,1007.3 L979.3,1004.7 L980.6,1006.4 L981.0,1008.8 L981.9,1002.4 L983.2,1003.3 L984.5,1005.8 L985.8,1013.7 L987.1,1003.3 L988.4,1009.6 L989.7,1008.1 L991.0,1006.5 L992.3,1012.0 L993.6,1010.2 L994.9,1008.5 L996.2,1006.8 L997.5,1004.9 L998.8,1005.3 L1000.1,1006.6 L1001.4,1007.6 L1002.7,1005.6 L1004.0,997.9 L1005.3,1004.8 L1006.6,1006.2 L1007.9,1006.2 L1009.2,1000.7 L1010.5,1003.7 L1011.8,1001.8 L1013.1,1004.3 L1014.4,1008.3 L1015.7,1006.5 L1017.0,997.3 L1018.3,1001.0 L1019.6,1011.0 L1020.9,1001.6 L1022.2,1002.9 L1023.5,1003.4 L1024.8,1003.7 L1026.1,1002.4 L1027.4,1000.2 L1028.7,1001.8 L1030.0,1006.7 L1031.3,1007.5 L1032.6,1000.4 L1033.9,1005.7 L1035.2,1000.5 L1036.5,1002.4 L1037.8,1005.7 L1039.1,999.1 L1040.4,1005.1 L1041.7,1001.6 L1043.0,1007.0 L1044.3,1006.5 L1045.5,1007.2 L1045.6,1001.0 L1046.9,1001.7 L1048.2,1004.6 L1049.5,999.5 L1050.8,1001.9 L1052.1,1002.7 L1053.4,1001.2 L1054.7,1002.2 L1056.0,1002.5 L1057.3,1005.4 L1058.6,1004.6 L1059.9,1005.0 L1061.2,1009.4 L1062.5,1000.2 L1063.8,1000.4 L1065.1,1000.5 L1066.4,998.5 L1067.7,1003.1 L1069.0,1000.4 L1070.3,1005.2 L1071.6,1004.1 L1072.9,999.7 L1074.2,1001.5 L1075.5,1003.0 L1076.8,999.1 L1078.1,1003.9 L1079.4,1000.7 L1080.7,997.9 L1082.0,1001.1 L1083.3,1000.7 L1084.6,1001.9 L1085.9,995.5 L1087.2,1000.3 L1088.5,997.1 L1089.8,1002.3 L1091.1,997.2 L1092.4,997.2 L1093.7,1002.0 L1095.0,1002.7 L1096.3,1005.2 L1097.6,996.6 L1098.9,1002.8 L1100.2,999.3 L1101.5,996.1 L1102.8,1001.0 L1104.1,1000.3 L1105.2,1000.8 L1105.4,997.1 L1106.7,994.6 L1108.0,1000.9 L1109.3,993.9 L1110.6,994.8 L1111.9,1000.7 L1113.2,1000.5 L1114.5,997.9 L1115.8,997.9 L1117.1,997.4 L1118.4,1001.1 L1119.7,994.4 L1121.0,1000.9 L1122.3,995.6 L1123.6,1001.3 L1124.9,1000.1 L1126.2,997.5 L1127.5,995.3 L1128.8,995.5 L1130.1,1001.7 L1131.4,996.3 L1132.7,998.6 L1134.0,996.3 L1135.3,1001.3 L1136.6,1001.3 L1137.9,997.1 L1139.2,1001.2 L1140.5,996.9 L1141.8,994.2 L1143.1,996.1 L1144.4,999.7 L1145.7,997.2 L1147.0,997.2 L1148.3,994.1 L1149.6,997.6 L1150.9,992.7 L1152.2,993.6 L1153.5,998.8 L1154.8,996.4 L1156.1,1000.4 L1157.4,996.0 L1158.7,994.7 L1160.0,998.2 L1161.3,1000.3 L1162.6,1000.1 L1163.9,1000.2 L1165.0,994.4 L1165.2,998.3 L1166.5,995.9 L1167.8,992.7 L1169.1,997.3 L1170.4,996.4 L1171.7,999.8 L1173.0,994.6 L1174.3,998.4 L1175.6,993.2 L1176.9,996.8 L1178.2,993.3 L1179.5,1002.9 L1180.8,994.2 L1182.1,994.2 L1183.4,1004.0 L1184.7,997.4 L1186.0,994.5 L1187.3,995.6 L1188.6,992.5 L1189.9,994.3 L1191.2,998.0 L1192.5,1000.8 L1193.8,994.6 L1195.1,996.2 L1196.4,998.9 L1197.7,999.1 L1199.0,992.5 L1200.3,999.7 L1201.6,994.2 L1202.9,998.7 L1204.2,990.0 L1205.5,993.9 L1206.8,1002.2 L1208.1,999.3 L1209.4,993.2 L1210.7,995.5 L1212.0,993.2 L1213.3,993.2 L1214.6,998.5 L1215.9,999.9 L1217.2,999.4 L1218.5,995.3 L1219.8,992.4 L1221.1,995.6 L1222.4,996.2 L1223.7,997.1 L1225.0,998.6 L1226.3,999.4 L1227.6,992.2 L1228.9,996.3 L1230.2,996.5 L1231.5,994.2 L1232.8,992.5 L1234.1,1000.4 L1235.4,997.2 L1236.6,996.4 L1236.7,995.5 L1238.0,996.6 L1239.3,995.2 L1240.6,991.8 L1241.9,991.4 L1243.2,992.4 L1244.5,992.1 L1245.8,997.3 L1247.1,997.5 L1248.4,994.5 L1249.7,992.8 L1251.0,995.2 L1252.3,991.0 L1253.6,993.0 L1254.9,997.9 L1256.2,992.2 L1257.5,994.8 L1258.8,994.3 L1260.1,992.0 L1261.4,992.5 L1262.7,989.8 L1264.0,997.3 L1265.3,992.8 L1266.6,997.0 L1267.9,989.1 L1269.2,991.0 L1270.5,993.0 L1271.8,995.8 L1273.1,994.3 L1274.4,994.9 L1275.7,992.7 L1277.0,994.0 L1278.3,992.6 L1279.6,991.7 L1280.9,991.6 L1282.2,990.8 L1283.5,994.1 L1284.8,996.4 L1286.1,997.6 L1287.4,995.7 L1288.7,990.2 L1290.0,988.8 L1291.3,994.0 L1292.6,992.8 L1293.9,991.4 L1295.2,988.5 L1296.5,988.3 L1297.8,990.0 L1299.1,988.0 L1300.4,990.0 L1301.7,991.8 L1303.0,993.6 L1304.3,990.3 L1305.6,993.1 L1306.9,991.8 L1308.2,994.3 L1308.3,987.4 L1309.5,994.1 L1310.8,992.9 L1312.1,989.3 L1313.4,989.3 L1314.7,990.3 L1316.0,989.0 L1317.3,987.5 L1318.6,990.6 L1319.9,993.3 L1321.2,989.2 L1322.5,991.0 L1323.8,993.0 L1325.1,992.1 L1326.4,990.7 L1327.7,988.5 L1329.0,987.4 L1330.3,986.2 L1331.6,986.9 L1332.9,993.5 L1334.2,988.3 L1335.5,985.9 L1336.8,989.8 L1338.1,986.1 L1339.4,990.1 L1340.7,988.6 L1342.0,987.8 L1343.3,988.0 L1344.6,990.9 L1345.9,993.5 L1347.2,985.5 L1348.5,986.4 L1349.8,993.0 L1351.1,989.6 L1352.4,989.1 L1353.7,985.8 L1355.0,991.8 L1356.3,985.8 L1357.6,990.3 L1358.9,987.7 L1360.2,989.4 L1361.5,990.7 L1362.8,989.1 L1364.1,985.6 L1365.4,991.2 L1366.7,989.7 L1368.0,983.6 L1369.3,987.6 L1370.6,990.2 L1371.9,984.5 L1373.2,988.3 L1374.5,983.4 L1375.8,986.5 L1377.1,990.9 L1378.4,984.1 L1379.7,988.3 L1379.9,985.2 L1381.0,986.9 L1382.3,986.8 L1383.6,981.1 L1384.9,979.6 L1386.2,978.7 L1387.5,978.9 L1388.5,976.6 L1388.8,976.6 L1390.1,977.0 L1391.4,977.1 L1392.7,979.2 L1394.0,984.7 L1395.3,984.6 L1396.6,986.0 L1396.7,980.8 L1397.9,989.7 L1399.2,983.2 L1400.5,988.3 L1401.8,987.1 L1403.1,993.7 L1404.4,990.3 L1405.7,986.0 L1407.0,991.2 L1408.3,988.3 L1409.6,984.5 L1410.9,984.1 L1412.2,983.7 L1413.5,988.2 L1414.8,987.2 L1416.1,985.8 L1417.4,989.7 L1418.7,985.8 L1420.0,984.6 L1421.3,992.6 L1422.6,983.0 L1423.9,986.5 L1425.2,986.7 L1426.5,989.0 L1427.8,986.9 L1429.1,989.5 L1430.4,987.6 L1431.7,987.1 L1433.0,990.8 L1434.3,992.9 L1435.6,984.3 L1436.9,991.6 L1438.2,983.3 L1439.5,990.3 L1440.8,983.4 L1442.1,990.4 L1443.4,985.7 L1444.7,991.6 L1446.0,991.7 L1447.3,989.0 L1448.6,990.9 L1449.9,985.4 L1451.2,984.2 L1451.6,990.6 L1452.5,987.4 L1453.8,982.5 L1455.1,988.3 L1456.4,986.9 L1457.7,988.0 L1459.0,984.7 L1460.3,989.1 L1461.6,989.7 L1462.9,983.0 L1464.2,987.2 L1465.5,981.7 L1466.8,983.1 L1468.1,991.7 L1469.4,987.1 L1470.7,989.3 L1472.0,985.2 L1473.3,983.7 L1474.6,989.8 L1475.9,984.1 L1477.2,984.9 L1478.5,987.8 L1479.8,983.4 L1481.1,983.2 L1482.4,985.4 L1483.7,984.3 L1485.0,983.2 L1486.3,983.9 L1487.6,989.3 L1488.9,984.7 L1490.2,987.1 L1491.5,983.5 L1492.8,988.8 L1494.1,987.3 L1495.4,984.1 L1496.7,983.4 L1498.0,978.5 L1499.3,986.6 L1500.6,984.2 L1501.9,982.9 L1503.2,988.6 L1504.5,987.1 L1505.8,980.4 L1507.1,982.9 L1508.4,981.8 L1509.7,986.8 L1511.0,983.9 L1512.3,983.8 L1513.6,979.9 L1514.9,980.8 L1516.2,981.4 L1517.5,987.2 L1518.8,986.1 L1520.1,983.9 L1521.4,984.5 L1522.7,983.9 L1523.3,985.7 L1524.0,983.4 L1525.3,985.0 L1526.6,983.8 L1527.9,983.8 L1529.2,981.7 L1530.5,987.3 L1531.8,985.1 L1533.1,980.0 L1534.4,980.9 L1535.7,982.8 L1537.0,986.6 L1538.3,986.3 L1539.6,985.8 L1540.9,988.5 L1542.2,987.6 L1543.5,988.9 L1544.8,987.0 L1546.1,980.6 L1547.4,981.3 L1548.7,981.7 L1550.0,988.7 L1551.3,986.1 L1552.6,986.9 L1553.9,982.3 L1555.2,983.3 L1556.5,982.2 L1557.8,985.4 L1559.1,980.5 L1560.4,980.8 L1561.7,979.6 L1563.0,980.5 L1564.3,986.7 L1565.6,986.1 L1566.9,981.0 L1568.2,982.9 L1569.5,980.9 L1570.8,981.7 L1572.1,986.4 L1573.4,982.8 L1574.7,987.0 L1576.0,983.9 L1577.3,979.7 L1578.6,978.8 L1579.9,980.6 L1581.2,980.2 L1582.5,983.1 L1583.8,982.7 L1585.1,983.8 L1586.4,982.3 L1587.7,985.3 L1589.0,979.0 L1590.3,984.7 L1591.6,980.7 L1592.9,981.1 L1594.2,983.4 L1595.0,983.0 L1595.5,981.2 L1596.8,985.6 L1598.1,982.2 L1599.4,980.5 L1600.7,978.4 L1602.0,976.3 L1603.3,984.5 L1604.6,983.8 L1605.9,981.4 L1607.2,984.6 L1608.5,977.0 L1609.8,983.3 L1611.1,979.4 L1612.4,979.8 L1613.7,980.0 L1615.0,984.4 L1616.3,980.4 L1617.6,982.0 L1618.9,982.4 L1620.2,982.4 L1621.5,978.0 L1622.8,979.6 L1624.1,983.8 L1625.4,979.2 L1626.7,976.6 L1628.0,979.1 L1629.3,976.2 L1630.6,978.4 L1631.9,977.3 L1633.2,982.8 L1634.5,977.6 L1635.8,976.1 L1637.1,983.7 L1638.4,982.6 L1639.7,982.4 L1641.0,977.5 L1642.3,983.8 L1643.6,976.8 L1644.9,980.5 L1646.2,982.1 L1647.5,978.6 L1648.8,980.1 L1650.1,982.4 L1651.4,981.8 L1652.7,977.8 L1654.0,978.0 L1655.3,981.3 L1656.6,979.0 L1657.9,980.5 L1659.2,976.4 L1660.5,979.3 L1661.8,982.9 L1663.1,979.5 L1664.4,977.4 L1665.7,980.9 L1666.6,982.7 L1667.0,976.5 L1668.3,978.4 L1669.6,975.3 L1670.9,978.7 L1672.2,972.2 L1673.5,977.0 L1674.8,976.6 L1676.1,974.9 L1677.4,971.1 L1678.7,970.9 L1680.0,976.3 L1681.3,974.9 L1682.6,970.4 L1683.3,972.3 L1683.9,967.7 L1685.2,972.2 L1686.5,969.4 L1687.8,971.5 L1689.1,969.6 L1690.4,974.9 L1691.7,968.0 L1693.0,970.3 L1694.3,967.2 L1695.6,968.3 L1696.9,970.7 L1698.2,972.8 L1699.5,973.5 L1700.8,968.5 L1702.1,972.3 L1703.4,972.9 L1704.7,974.6 L1706.0,966.8 L1707.2,974.0 L1707.3,971.7 L1708.6,974.6 L1709.9,969.9 L1711.2,970.2 L1712.5,975.3 L1713.8,974.2 L1715.1,979.9 L1716.4,976.9 L1717.7,975.8 L1719.0,982.4 L1719.1,981.0 L1720.3,981.0 L1721.6,979.5 L1722.9,981.5 L1724.2,976.9 L1725.5,975.5 L1726.8,977.0 L1728.1,980.4 L1729.4,975.8 L1730.7,979.1 L1732.0,973.3 L1733.3,977.2 L1734.6,973.1 L1735.9,975.8 L1737.2,973.2 L1738.5,972.6 L1739.8,974.7 L1741.1,979.3 L1742.4,975.0 L1743.7,977.5 L1745.0,979.4 L1746.3,977.1 L1747.6,973.2 L1748.9,976.3 L1750.2,973.5 L1751.5,974.0 L1752.8,970.3 L1754.1,976.8 L1755.4,971.1 L1756.7,974.6 L1758.0,970.3 L1759.3,975.8 L1760.6,976.1 L1761.9,974.2 L1763.2,970.3 L1764.5,969.3 L1765.8,972.0 L1767.1,969.6 L1768.4,969.7 L1769.7,972.2 L1771.0,967.4 L1772.3,971.9 L1773.6,971.8 L1774.9,971.3 L1776.2,969.4 L1777.5,973.2 L1778.8,968.7 L1780.1,967.8 L1781.4,966.6 L1782.7,968.9 L1784.0,971.0 L1785.3,967.8 L1786.6,970.9 L1787.9,965.6 L1789.2,973.2 L1790.5,972.3 L1791.8,965.2 L1793.1,969.3 L1794.4,967.1 L1795.6,970.1 L1795.7,970.7 L1797.0,968.8 L1798.3,971.8 L1799.6,972.9 L1800.9,968.0 L1802.2,969.0 L1803.5,972.4 L1804.8,976.2 L1806.1,974.8 L1807.4,972.0 L1808.7,969.7 L1809.9,977.6 L1810.0,972.6 L1811.3,974.1 L1812.6,972.8 L1813.9,977.8 L1815.2,970.7 L1816.5,976.7 L1817.8,972.2 L1819.1,969.4 L1820.4,970.8 L1821.7,971.3 L1823.0,970.6 L1824.0,968.7" fill="none" stroke="#FF4045" stroke-width="7.5" stroke-linejoin="round" stroke-linecap="butt" shape-rendering="crispEdges"/>
<path d="M172.0,936.5 L173.3,932.9 L174.6,936.3 L175.9,936.3 L177.2,938.9 L178.5,939.1 L179.8,937.2 L181.1,930.8 L182.4,933.0 L183.7,934.2 L185.0,937.0 L186.3,931.7 L187.6,934.3 L188.9,936.9 L190.2,937.1 L191.5,933.0 L192.8,941.9 L194.1,930.4 L195.4,937.4 L196.7,931.0 L198.0,933.6 L199.3,932.5 L200.6,935.4 L201.9,936.7 L203.2,930.4 L204.5,927.4 L205.8,935.9 L207.1,929.3 L208.4,930.3 L209.7,934.6 L211.0,930.3 L212.3,927.7 L212.5,929.4 L213.6,935.3 L214.9,928.9 L216.2,935.0 L217.5,930.9 L218.8,928.3 L220.1,930.8 L221.4,930.2 L222.7,927.4 L224.0,929.0 L225.3,930.0 L226.6,929.8 L227.9,931.6 L229.2,926.7 L230.5,924.7 L231.8,922.5 L233.1,927.9 L234.4,926.2 L235.7,923.2 L237.0,922.6 L238.3,922.5 L239.6,926.5 L240.9,921.3 L242.2,922.4 L243.5,923.3 L244.8,924.2 L246.1,930.1 L247.4,923.8 L248.6,922.8 L248.7,918.4 L250.0,919.2 L251.3,917.1 L251.6,920.8 L252.6,901.6 L253.9,881.5 L254.5,870.5 L255.2,881.4 L256.5,902.4 L257.4,908.9 L257.8,909.3 L259.1,913.0 L259.2,911.3 L260.4,911.0 L261.7,919.9 L263.0,921.6 L263.4,920.9 L264.3,917.6 L265.6,916.6 L266.9,919.7 L268.2,912.8 L269.5,916.3 L270.8,917.7 L272.1,909.1 L273.4,913.2 L274.7,904.4 L276.0,908.3 L276.2,909.0 L277.3,910.9 L278.6,904.3 L279.9,911.0 L281.2,905.9 L282.5,909.2 L283.8,911.7 L285.1,904.9 L286.4,911.3 L287.7,905.7 L288.9,910.1 L289.0,905.6 L290.3,905.7 L291.6,898.0 L292.9,888.5 L293.6,884.3 L294.2,888.6 L295.5,897.4 L296.8,901.9 L298.1,914.2 L298.4,910.8 L299.4,909.1 L300.7,910.4 L302.0,900.2 L303.3,900.3 L303.8,899.7 L304.6,903.5 L305.9,906.0 L307.2,900.5 L308.5,904.4 L309.8,908.4 L311.1,908.4 L312.4,911.6 L313.7,917.3 L315.0,906.3 L316.3,913.4 L316.5,909.2 L317.6,912.1 L318.9,910.5 L320.2,900.0 L321.5,896.5 L322.8,892.9 L324.1,895.8 L325.4,889.2 L326.7,887.3 L327.1,886.4 L328.0,889.8 L329.3,894.9 L330.6,898.0 L331.9,900.6 L333.2,904.8 L333.5,903.8 L334.5,902.5 L335.8,905.1 L337.1,906.3 L338.4,907.3 L339.7,903.4 L341.0,908.1 L342.3,907.3 L343.6,903.9 L344.1,908.6 L344.9,904.3 L346.2,900.1 L347.5,904.0 L348.8,898.1 L350.1,895.4 L351.4,891.9 L351.5,896.1 L352.7,892.7 L354.0,901.1 L355.3,897.5 L356.6,903.2 L357.9,902.9 L359.0,909.7 L359.2,906.3 L360.5,908.1 L361.8,904.7 L363.1,906.9 L364.4,907.5 L365.7,904.7 L367.0,906.3 L368.3,904.6 L369.6,898.8 L370.9,902.9 L372.2,897.0 L373.5,899.4 L373.8,903.6 L374.8,896.3 L376.1,894.9 L377.4,900.7 L377.5,896.6 L378.7,893.7 L380.0,886.6 L381.3,880.0 L381.7,877.9 L382.6,882.7 L383.9,891.2 L385.2,895.0 L385.5,898.9 L386.5,897.4 L386.6,896.0 L387.8,897.2 L389.1,896.0 L390.4,896.0 L391.7,904.3 L393.0,897.9 L394.3,904.3 L395.6,898.9 L396.9,903.9 L398.2,905.3 L399.5,897.3 L400.8,898.6 L402.1,901.0 L403.4,900.8 L404.7,903.4 L405.0,899.7 L406.0,903.0 L407.3,904.4 L408.6,900.1 L409.9,902.3 L411.2,903.1 L412.5,898.5 L413.8,899.1 L415.1,897.9 L416.4,901.3 L417.7,899.1 L419.0,897.6 L420.3,894.0 L421.6,899.0 L422.9,897.1 L424.2,895.8 L424.8,895.8 L425.5,896.7 L426.8,896.7 L428.1,891.4 L429.4,889.8 L430.7,891.8 L432.0,896.4 L433.3,893.9 L434.6,889.0 L435.9,887.7 L437.2,895.1 L438.5,888.5 L439.8,892.1 L441.1,889.3 L442.4,886.6 L443.7,892.7 L445.0,889.0 L446.3,887.1 L447.6,888.2 L448.9,888.7 L450.2,885.4 L451.5,885.6 L452.8,882.6 L454.1,889.0 L455.4,889.2 L456.7,888.9 L458.0,884.6 L458.7,888.9 L459.3,887.8 L460.6,884.6 L461.9,880.4 L463.2,879.5 L464.5,878.4 L465.8,875.3 L467.1,876.8 L468.4,879.3 L469.7,881.1 L471.0,874.0 L472.3,871.1 L473.6,877.4 L474.9,870.7 L476.2,868.5 L477.5,871.6 L478.8,873.0 L480.1,873.8 L481.4,872.1 L482.2,870.1 L482.7,864.3 L484.0,874.9 L485.3,869.1 L486.6,874.4 L487.9,873.9 L488.5,877.6 L489.2,876.3 L490.5,879.7 L491.8,876.6 L493.1,877.7 L494.4,875.1 L495.7,878.5 L497.0,872.8 L498.3,874.9 L499.6,879.8 L500.9,875.9 L502.2,873.0 L503.5,871.6 L504.8,875.0 L506.1,876.4 L507.0,872.3 L507.4,873.5 L508.7,879.0 L510.0,872.2 L511.3,873.4 L512.6,874.8 L513.9,869.1 L515.2,876.4 L516.5,871.2 L517.8,869.3 L518.2,870.6 L519.1,864.5 L520.4,852.6 L521.7,838.7 L523.0,829.3 L523.5,824.9 L524.3,830.6 L525.6,838.6 L526.9,847.3 L528.2,865.9 L528.8,864.2 L529.5,867.4 L530.8,863.8 L532.1,866.2 L533.4,865.2 L534.7,863.3 L536.0,869.7 L537.3,870.0 L538.6,860.8 L539.9,859.4 L541.2,869.0 L542.5,863.7 L543.8,864.0 L545.1,867.2 L546.4,865.7 L547.7,871.5 L549.0,865.8 L550.3,864.0 L551.6,866.3 L552.2,871.8 L552.9,867.6 L554.2,867.6 L555.5,863.0 L556.8,872.4 L558.1,865.6 L559.4,869.9 L560.0,868.3 L560.7,866.0 L562.0,867.0 L563.3,862.2 L564.6,866.2 L565.9,863.0 L567.2,864.5 L568.5,866.4 L569.8,868.2 L571.1,860.9 L572.4,864.0 L573.7,861.0 L575.0,863.0 L576.3,868.2 L577.6,860.6 L578.9,867.5 L580.2,864.4 L581.5,859.3 L582.8,861.8 L584.1,866.9 L585.4,864.1 L586.7,860.3 L588.0,862.8 L589.3,860.3 L590.6,865.2 L591.8,861.6 L591.9,866.7 L593.2,861.0 L594.5,861.3 L595.8,865.6 L597.1,862.7 L598.4,865.9 L599.7,865.8 L601.0,861.8 L602.3,865.4 L603.6,860.8 L604.9,864.4 L606.2,861.2 L607.5,864.6 L608.8,860.2 L610.1,861.6 L611.4,860.9 L612.7,862.6 L614.0,859.3 L615.3,858.3 L616.6,857.7 L617.9,861.5 L619.2,862.1 L620.5,863.2 L621.8,861.1 L623.1,860.0 L624.4,859.6 L625.7,865.3 L627.0,859.8 L628.3,863.4 L629.6,862.5 L630.9,860.1 L632.2,863.5 L633.5,862.7 L634.8,860.9 L636.1,859.1 L637.4,860.6 L638.7,862.4 L640.0,866.2 L641.3,864.4 L642.6,859.4 L643.9,862.6 L644.9,862.6 L645.2,861.7 L646.5,859.4 L647.8,860.0 L649.1,862.7 L650.4,865.3 L651.7,858.7 L653.0,857.1 L654.3,856.5 L655.6,856.6 L656.9,855.6 L658.2,856.8 L659.5,859.3 L660.8,864.3 L662.1,857.5 L663.4,854.9 L664.7,861.4 L666.0,856.2 L667.3,856.6 L668.6,863.1 L669.9,855.7 L671.2,857.2 L672.5,856.0 L673.8,855.5 L675.1,859.0 L676.4,858.6 L677.7,858.0 L679.0,854.3 L680.3,858.5 L681.6,854.8 L682.9,852.3 L683.1,856.3 L684.2,854.9 L685.5,857.1 L686.8,855.6 L688.1,860.6 L689.4,859.0 L690.7,861.8 L692.0,861.8 L693.3,864.3 L694.6,861.6 L695.9,863.4 L697.2,863.3 L698.0,867.0 L698.5,861.3 L699.8,869.3 L701.1,868.2 L702.4,864.7 L703.7,860.5 L705.0,862.5 L706.3,856.9 L707.6,856.3 L708.9,861.9 L710.2,854.9 L711.5,859.3 L712.8,853.4 L714.1,858.9 L715.0,859.6 L715.4,857.2 L716.7,854.4 L718.0,857.7 L719.3,861.0 L720.6,867.2 L721.9,857.0 L723.2,859.4 L724.5,861.2 L725.8,865.3 L727.1,866.2 L728.4,862.4 L729.7,867.3 L729.9,868.3 L731.0,865.6 L732.3,864.2 L733.6,868.9 L734.9,867.9 L736.2,861.8 L737.5,861.6 L738.8,863.0 L740.1,864.1 L741.4,867.0 L742.7,862.8 L744.0,858.3 L745.3,861.1 L746.6,857.8 L747.9,858.6 L749.2,864.3 L750.5,857.6 L751.8,859.1 L753.1,862.7 L753.2,865.7 L754.4,847.0 L755.7,837.1 L757.0,821.8 L758.3,812.0 L759.6,799.6 L760.9,811.6 L762.2,828.9 L763.5,838.8 L764.8,851.6 L764.9,856.8 L766.1,857.9 L767.4,858.4 L768.7,853.7 L770.0,848.6 L771.3,852.6 L772.6,853.8 L773.9,856.2 L775.2,854.3 L776.5,849.1 L777.8,853.0 L779.1,854.5 L780.4,846.6 L780.8,859.2 L781.7,853.6 L783.0,850.5 L784.3,857.9 L785.6,860.1 L786.9,855.4 L788.2,865.3 L789.3,865.9 L789.5,864.3 L790.8,859.9 L792.1,857.1 L793.4,862.9 L794.7,859.7 L796.0,864.0 L797.3,856.0 L798.6,857.9 L799.9,862.5 L801.2,856.7 L802.5,856.3 L803.8,855.2 L805.1,857.2 L806.4,861.2 L807.7,857.4 L809.0,853.7 L810.3,857.7 L811.6,858.4 L812.9,856.1 L814.2,853.2 L814.8,856.2 L815.5,852.4 L816.8,856.2 L818.1,851.8 L819.4,855.3 L820.7,853.4 L822.0,857.0 L823.3,855.3 L824.6,860.2 L825.9,850.1 L827.2,851.4 L828.5,859.0 L829.8,857.9 L831.1,858.3 L832.4,853.6 L833.7,860.3 L835.0,854.2 L836.0,853.8 L836.3,860.1 L837.6,851.8 L838.9,835.0 L840.2,826.2 L841.5,823.2 L842.8,813.7 L843.4,808.1 L844.1,812.0 L845.4,825.0 L846.7,830.5 L848.0,837.4 L848.7,843.2 L849.3,839.4 L850.6,839.8 L851.9,831.3 L853.2,825.4 L854.5,820.5 L855.8,813.7 L856.2,812.4 L857.1,819.3 L858.4,828.0 L859.7,838.0 L861.0,842.0 L862.3,855.7 L862.5,855.8 L863.6,852.1 L864.9,851.0 L866.2,846.2 L867.5,843.6 L868.8,842.4 L870.1,835.4 L871.4,834.3 L872.7,834.2 L874.0,828.6 L875.3,826.2 L876.6,826.8 L877.9,830.9 L879.2,831.6 L880.5,833.0 L881.8,840.6 L882.7,845.7 L883.1,833.4 L884.4,843.0 L885.7,843.5 L887.0,848.5 L888.3,842.5 L889.6,844.5 L890.9,846.1 L891.2,853.1 L892.2,845.6 L893.5,830.4 L894.8,824.7 L896.1,817.7 L897.4,813.5 L897.6,806.1 L898.7,799.3 L900.0,785.1 L900.8,781.9 L901.3,778.3 L902.6,785.2 L903.9,782.7 L905.2,778.9 L906.5,777.9 L907.8,779.0 L909.1,778.3 L909.3,778.0 L910.4,791.5 L911.7,801.3 L912.4,810.0 L913.0,814.9 L914.3,820.3 L915.6,821.7 L916.9,827.8 L918.2,834.1 L919.5,842.2 L920.8,852.4 L920.9,853.9 L922.1,847.3 L923.4,851.1 L924.7,848.1 L926.0,843.9 L927.3,846.3 L928.6,847.7 L929.4,843.3 L929.9,840.9 L931.2,844.7 L932.5,849.4 L933.8,849.4 L935.1,844.6 L935.8,849.0 L936.4,849.0 L937.7,853.8 L939.0,847.1 L940.3,850.6 L941.6,851.7 L942.9,846.4 L944.2,849.1 L945.5,842.7 L946.8,845.2 L948.1,846.7 L949.4,842.8 L950.0,842.6 L950.7,846.9 L952.0,845.3 L953.3,842.6 L954.6,844.7 L955.9,843.0 L957.2,846.2 L958.5,837.5 L959.8,844.4 L961.1,836.3 L962.4,844.5 L963.7,836.3 L965.0,840.1 L966.3,843.1 L967.6,836.6 L968.9,841.7 L969.1,835.4 L970.2,838.0 L971.5,840.0 L972.8,841.6 L974.1,839.7 L975.4,847.4 L976.7,843.3 L978.0,845.7 L979.3,844.5 L980.6,848.4 L981.0,848.4 L981.9,851.1 L983.2,846.0 L984.5,845.0 L985.8,849.1 L987.1,845.6 L988.4,851.8 L989.7,851.8 L991.0,850.8 L992.3,847.4 L993.6,845.9 L994.9,852.3 L996.2,850.0 L997.5,848.9 L998.8,846.4 L1000.1,847.3 L1001.4,848.8 L1002.7,845.2 L1004.0,846.5 L1005.3,851.9 L1006.6,844.7 L1007.9,846.8 L1009.2,845.9 L1010.5,844.1 L1011.8,848.8 L1013.1,844.8 L1014.4,847.2 L1015.7,845.6 L1017.0,842.7 L1018.3,847.1 L1019.6,850.2 L1020.9,848.0 L1022.2,844.1 L1023.5,844.5 L1024.8,850.2 L1026.1,842.5 L1027.4,849.8 L1028.7,850.5 L1030.0,844.2 L1031.3,844.4 L1032.6,844.0 L1033.9,846.0 L1035.2,851.5 L1036.5,850.7 L1037.8,842.0 L1039.1,845.2 L1040.4,844.2 L1041.7,844.5 L1043.0,842.5 L1044.3,845.3 L1045.5,847.8 L1045.6,843.4 L1046.9,841.9 L1048.2,847.6 L1049.5,847.0 L1050.8,850.5 L1052.1,843.4 L1053.4,842.7 L1054.7,844.7 L1056.0,842.9 L1057.3,841.8 L1058.6,849.8 L1059.9,846.9 L1061.2,848.3 L1062.5,846.4 L1063.8,846.8 L1065.1,848.8 L1066.4,845.6 L1067.7,848.3 L1069.0,845.5 L1070.3,847.7 L1071.6,846.3 L1072.9,845.8 L1074.2,841.3 L1075.5,844.3 L1076.8,844.4 L1078.1,840.5 L1079.4,841.5 L1080.7,844.0 L1082.0,847.0 L1083.3,840.5 L1084.6,845.9 L1085.9,843.7 L1087.2,847.6 L1088.5,846.5 L1089.8,841.1 L1091.1,840.9 L1092.4,842.3 L1093.7,846.8 L1095.0,840.6 L1096.3,838.0 L1097.6,841.3 L1098.9,842.7 L1100.2,845.2 L1101.5,839.6 L1102.8,844.4 L1104.1,839.8 L1105.4,842.0 L1106.7,844.0 L1108.0,846.9 L1109.3,843.9 L1110.6,842.8 L1111.9,841.8 L1113.2,842.0 L1114.5,842.0 L1115.8,843.6 L1117.1,846.1 L1117.2,839.6 L1118.4,840.3 L1119.7,840.2 L1121.0,845.6 L1122.3,843.7 L1123.6,843.7 L1124.9,841.8 L1126.2,844.4 L1127.5,846.0 L1128.8,841.3 L1130.1,843.7 L1131.4,837.1 L1132.7,843.0 L1134.0,841.3 L1135.3,840.5 L1136.6,840.2 L1137.9,843.6 L1139.2,842.1 L1140.5,840.9 L1141.8,844.5 L1143.1,842.9 L1144.4,843.6 L1145.7,840.9 L1147.0,843.2 L1148.3,842.9 L1149.6,835.2 L1150.9,839.0 L1152.2,841.5 L1153.5,841.4 L1154.8,837.5 L1156.1,833.0 L1157.4,837.2 L1158.7,835.1 L1160.0,836.9 L1161.3,834.9 L1162.6,845.1 L1163.9,842.5 L1165.0,836.9 L1165.2,834.9 L1166.5,838.1 L1167.8,834.6 L1169.1,836.1 L1170.4,840.4 L1171.7,838.4 L1173.0,842.3 L1174.3,837.7 L1175.6,834.9 L1176.9,834.5 L1178.2,834.7 L1179.5,835.5 L1180.8,839.9 L1182.1,839.9 L1183.4,839.8 L1184.7,836.3 L1186.0,834.6 L1187.3,842.4 L1188.6,837.7 L1189.9,834.5 L1191.2,838.3 L1192.5,839.5 L1193.8,835.8 L1195.1,841.1 L1196.4,835.6 L1197.7,841.7 L1199.0,839.6 L1200.3,838.3 L1201.6,839.2 L1202.9,836.3 L1204.2,834.2 L1205.5,836.5 L1206.8,835.2 L1208.1,834.9 L1209.4,835.4 L1210.7,840.0 L1212.0,833.9 L1212.7,840.2 L1213.3,835.4 L1214.6,835.2 L1215.9,839.9 L1217.2,836.1 L1218.5,835.4 L1219.8,842.2 L1221.1,835.2 L1222.4,833.2 L1223.7,836.5 L1225.0,842.0 L1226.3,840.1 L1227.6,834.9 L1228.9,836.3 L1230.2,839.8 L1231.5,834.0 L1232.8,834.3 L1234.1,837.4 L1235.4,837.0 L1236.7,841.1 L1238.0,834.2 L1239.3,834.7 L1240.6,834.7 L1241.9,838.8 L1243.2,840.5 L1244.5,838.9 L1245.8,833.4 L1247.1,838.9 L1248.4,832.6 L1249.7,838.8 L1251.0,840.2 L1252.3,840.7 L1253.6,832.7 L1254.9,840.4 L1256.2,838.5 L1257.5,835.0 L1258.8,836.1 L1260.1,835.5 L1260.5,835.4 L1261.4,836.5 L1262.7,834.2 L1264.0,836.2 L1265.3,835.0 L1266.6,833.9 L1267.9,836.1 L1269.2,827.9 L1270.5,831.4 L1271.8,833.7 L1272.4,827.5 L1273.1,826.5 L1274.4,829.0 L1275.7,826.3 L1277.0,826.7 L1278.3,827.7 L1279.6,827.2 L1280.9,830.8 L1282.2,835.5 L1283.5,826.5 L1284.8,830.0 L1286.1,828.6 L1287.4,830.4 L1288.7,834.6 L1290.0,827.3 L1291.3,834.7 L1292.6,833.5 L1293.9,833.5 L1295.2,823.3 L1296.5,829.2 L1297.8,834.7 L1299.1,827.6 L1300.4,826.6 L1301.7,827.5 L1303.0,833.0 L1304.3,835.5 L1305.6,833.8 L1306.9,833.4 L1308.2,830.4 L1309.5,831.8 L1310.8,829.2 L1312.1,827.5 L1313.4,835.3 L1314.7,830.7 L1316.0,826.7 L1317.3,832.1 L1318.6,828.0 L1319.9,833.4 L1320.2,834.1 L1321.2,834.4 L1322.5,834.1 L1323.8,831.1 L1325.1,833.4 L1326.4,832.9 L1327.7,826.3 L1329.0,829.8 L1330.3,829.5 L1331.6,828.6 L1332.9,826.5 L1334.2,824.6 L1335.5,828.7 L1336.8,824.6 L1338.1,824.0 L1339.4,824.5 L1340.7,833.3 L1342.0,827.9 L1343.3,825.9 L1344.6,826.2 L1345.9,828.8 L1347.2,827.7 L1348.5,826.9 L1349.8,825.1 L1351.1,829.3 L1352.4,822.9 L1353.7,822.8 L1355.0,821.8 L1356.0,829.5 L1356.3,828.6 L1357.6,822.9 L1358.9,820.5 L1360.2,823.4 L1361.5,821.5 L1362.8,820.0 L1364.1,819.7 L1365.4,824.5 L1366.7,821.4 L1368.0,822.4 L1369.3,823.2 L1370.3,819.4 L1370.6,819.1 L1371.9,819.0 L1373.2,827.0 L1374.5,821.5 L1375.8,826.5 L1377.1,828.1 L1378.4,825.6 L1379.7,828.5 L1379.9,829.2 L1381.0,823.2 L1382.3,832.1 L1383.6,824.4 L1384.9,828.8 L1386.2,822.4 L1387.5,821.4 L1388.8,824.7 L1390.1,825.8 L1390.6,825.3 L1391.4,818.7 L1392.7,819.3 L1394.0,828.5 L1395.3,825.4 L1396.6,828.6 L1397.9,827.4 L1399.0,826.0 L1399.2,828.4 L1400.5,833.3 L1401.8,829.7 L1403.1,826.3 L1404.4,828.3 L1405.7,826.4 L1407.0,824.5 L1408.3,825.9 L1409.6,826.9 L1410.9,830.7 L1412.2,829.4 L1413.5,824.0 L1414.8,832.8 L1416.1,827.9 L1417.4,828.2 L1418.7,824.8 L1420.0,830.1 L1421.3,831.6 L1422.6,824.0 L1423.9,826.2 L1425.2,829.5 L1426.5,827.2 L1427.8,830.2 L1429.1,823.8 L1430.4,823.4 L1431.7,829.6 L1433.0,830.6 L1434.3,826.7 L1435.6,828.9 L1436.9,823.5 L1438.2,827.6 L1439.5,830.4 L1440.8,831.1 L1442.1,826.0 L1443.4,827.1 L1444.7,823.5 L1446.0,829.3 L1447.3,826.7 L1448.6,828.8 L1449.9,828.1 L1451.2,824.4 L1452.5,829.5 L1453.8,823.2 L1455.1,829.4 L1456.4,824.8 L1457.7,821.6 L1459.0,821.9 L1460.3,818.5 L1461.6,823.7 L1462.9,820.8 L1464.2,826.7 L1465.5,822.7 L1466.8,819.2 L1468.1,824.9 L1469.4,822.3 L1470.7,822.4 L1472.0,826.1 L1473.3,823.8 L1474.6,823.8 L1475.5,823.3 L1475.9,821.8 L1477.2,822.6 L1478.5,819.8 L1479.8,821.6 L1481.1,821.6 L1482.4,827.2 L1483.7,819.5 L1485.0,819.1 L1486.3,827.0 L1487.6,824.8 L1488.9,826.1 L1490.2,819.2 L1491.5,823.0 L1492.8,825.5 L1494.1,822.4 L1495.4,824.8 L1496.7,823.9 L1498.0,827.0 L1499.3,826.1 L1500.6,824.5 L1501.9,818.4 L1503.2,826.1 L1504.5,819.2 L1505.8,819.1 L1507.1,825.4 L1508.4,821.5 L1509.7,819.3 L1511.0,819.9 L1512.3,824.1 L1513.6,819.7 L1514.9,824.9 L1516.2,820.4 L1517.5,827.0 L1518.8,825.0 L1520.1,827.0 L1521.4,823.4 L1522.7,823.1 L1524.0,825.4 L1525.3,822.1 L1526.6,821.7 L1527.9,817.6 L1529.2,821.1 L1530.5,823.9 L1531.8,825.4 L1533.1,819.8 L1534.4,818.5 L1535.7,816.8 L1537.0,820.4 L1538.3,818.8 L1539.6,818.3 L1540.9,824.7 L1542.2,821.8 L1543.5,820.3 L1544.8,821.2 L1546.1,823.6 L1547.2,817.1 L1547.4,819.1 L1548.7,820.1 L1550.0,818.6 L1551.3,822.3 L1552.6,820.2 L1553.9,819.3 L1555.2,822.1 L1556.5,814.6 L1557.8,823.2 L1559.1,821.5 L1560.4,824.4 L1561.7,817.4 L1563.0,820.4 L1564.3,817.5 L1565.6,817.8 L1566.9,817.2 L1568.2,819.4 L1569.5,817.7 L1570.8,816.3 L1572.1,822.4 L1573.4,814.7 L1574.7,819.1 L1576.0,817.5 L1577.3,819.5 L1578.6,816.3 L1579.9,814.7 L1581.2,820.4 L1582.5,821.9 L1583.8,820.0 L1585.1,820.8 L1586.4,822.2 L1587.7,821.9 L1589.0,815.5 L1590.3,816.1 L1591.6,820.6 L1592.9,819.1 L1594.2,821.1 L1595.5,812.0 L1596.8,819.0 L1598.1,817.3 L1599.4,819.1 L1600.7,816.0 L1602.0,814.1 L1603.3,819.6 L1604.6,815.3 L1605.9,820.2 L1606.9,817.6 L1607.2,808.2 L1608.5,815.3 L1609.8,809.5 L1611.1,816.4 L1612.4,810.9 L1613.7,812.2 L1615.0,812.7 L1616.3,806.5 L1617.6,810.1 L1618.9,808.9 L1620.2,811.2 L1621.5,802.3 L1622.4,803.4 L1622.8,803.6 L1624.1,807.8 L1625.4,804.1 L1626.7,807.5 L1628.0,807.7 L1629.3,807.3 L1630.6,810.2 L1631.9,810.3 L1633.2,815.6 L1634.5,809.2 L1635.8,814.4 L1637.1,810.1 L1638.4,813.7 L1639.7,818.0 L1641.0,815.4 L1642.3,810.9 L1643.6,812.7 L1644.9,817.5 L1646.2,810.7 L1647.5,816.9 L1648.8,816.3 L1650.1,805.0 L1651.4,816.3 L1652.7,816.0 L1654.0,817.6 L1655.3,815.6 L1656.6,815.9 L1657.9,812.7 L1659.2,809.2 L1660.5,814.5 L1661.8,815.3 L1663.1,815.7 L1664.4,810.4 L1665.7,810.8 L1666.6,815.2 L1667.0,817.0 L1668.3,817.2 L1669.6,814.9 L1670.9,816.8 L1672.2,814.6 L1673.5,814.6 L1674.8,807.0 L1676.1,813.5 L1677.4,812.1 L1678.7,808.0 L1680.0,808.8 L1681.3,810.7 L1682.6,806.2 L1683.9,808.9 L1685.2,809.5 L1686.5,807.7 L1687.8,815.9 L1689.1,810.5 L1690.4,803.6 L1690.5,810.5 L1691.7,806.1 L1693.0,801.6 L1694.3,805.1 L1695.6,801.8 L1696.9,806.9 L1698.2,799.8 L1699.5,802.3 L1700.8,798.0 L1702.1,801.4 L1702.4,799.9 L1703.4,806.2 L1704.7,805.9 L1706.0,807.4 L1707.3,806.7 L1708.6,804.2 L1709.9,808.1 L1711.2,804.3 L1712.5,806.5 L1713.8,810.6 L1715.1,808.8 L1716.4,808.4 L1717.7,812.4 L1719.0,807.2 L1720.3,806.5 L1721.5,813.2 L1721.6,808.7 L1722.9,806.0 L1724.2,809.0 L1725.5,807.3 L1726.8,814.1 L1728.1,809.6 L1729.4,806.7 L1730.7,814.4 L1732.0,813.6 L1733.3,808.0 L1734.6,810.0 L1735.9,806.3 L1737.2,809.9 L1738.5,812.2 L1739.8,814.2 L1741.1,808.1 L1742.4,806.8 L1743.7,809.2 L1745.0,811.9 L1746.3,810.8 L1747.6,810.4 L1748.9,812.0 L1750.2,808.3 L1751.5,807.2 L1752.8,805.9 L1754.1,812.8 L1755.4,811.0 L1756.7,812.5 L1758.0,811.7 L1759.3,813.5 L1760.6,808.4 L1761.9,812.4 L1762.1,806.4 L1763.2,808.9 L1764.5,809.7 L1765.8,809.6 L1767.1,808.4 L1768.4,805.8 L1769.7,810.5 L1771.0,806.9 L1772.3,806.3 L1773.6,809.0 L1774.9,803.2 L1776.2,801.9 L1777.5,800.0 L1778.8,806.8 L1780.1,806.0 L1781.4,807.7 L1782.7,807.4 L1784.0,798.2 L1785.3,810.6 L1786.6,803.9 L1787.9,802.2 L1789.2,797.5 L1790.5,795.6 L1791.8,798.9 L1793.1,798.8 L1794.4,802.6 L1795.7,796.3 L1797.0,799.5 L1798.0,796.0 L1798.3,802.4 L1799.6,796.3 L1800.9,802.1 L1802.2,795.1 L1803.5,801.4 L1804.8,800.7 L1806.1,803.8 L1807.4,801.2 L1808.7,798.1 L1810.0,806.4 L1811.3,802.6 L1812.6,801.6 L1813.9,803.8 L1815.2,807.2 L1816.5,805.8 L1817.8,801.6 L1819.1,803.2 L1820.4,804.0 L1821.7,803.9 L1823.0,807.1 L1824.0,803.0" fill="none" stroke="#026BE0" stroke-width="7.5" stroke-linejoin="round" stroke-linecap="butt" shape-rendering="crispEdges"/>
<path d="M172.0,744.0 L173.3,743.1 L174.6,749.4 L175.9,746.5 L177.2,742.3 L178.5,748.5 L179.8,742.9 L181.1,747.2 L182.4,741.6 L183.7,744.8 L185.0,740.7 L186.3,744.5 L187.6,744.5 L188.9,743.7 L190.2,742.6 L191.5,742.0 L192.8,742.6 L194.1,739.0 L195.4,744.7 L196.7,737.9 L198.0,741.5 L199.3,742.7 L200.6,739.9 L201.9,742.3 L203.2,736.6 L204.5,736.2 L205.8,736.0 L207.1,738.2 L208.4,734.3 L209.7,734.3 L211.0,736.5 L212.3,734.4 L212.5,736.6 L213.6,739.1 L214.9,736.9 L216.2,736.0 L217.5,737.3 L218.8,738.8 L220.1,736.4 L221.4,733.4 L222.7,729.5 L224.0,735.7 L225.3,731.4 L226.6,729.3 L227.9,734.1 L229.2,728.7 L230.5,736.0 L231.8,729.5 L233.1,735.4 L234.4,729.2 L235.7,730.2 L237.0,734.3 L238.3,728.3 L239.6,733.0 L240.9,733.8 L242.2,730.0 L243.5,732.4 L244.8,730.2 L246.1,731.2 L247.4,724.6 L248.6,728.9 L248.7,730.5 L250.0,723.9 L251.3,727.2 L251.8,720.8 L252.6,717.7 L253.9,708.5 L254.5,704.0 L255.2,710.1 L256.5,723.2 L257.2,732.5 L257.8,736.0 L258.6,734.0 L259.1,732.7 L260.4,731.5 L261.7,734.0 L263.0,731.2 L264.3,727.0 L265.6,726.8 L266.9,727.6 L268.2,730.4 L269.5,727.4 L270.8,725.5 L272.1,729.7 L273.4,725.3 L274.7,721.7 L276.0,724.9 L276.2,718.9 L277.3,721.3 L278.6,725.7 L279.9,724.5 L281.2,724.9 L282.5,726.1 L283.8,718.7 L285.1,719.9 L286.4,720.5 L287.7,725.9 L288.9,720.7 L289.0,720.3 L290.3,707.0 L291.6,692.2 L292.9,677.0 L293.8,666.9 L294.2,673.1 L295.5,689.1 L296.8,714.2 L297.4,721.3 L298.1,717.4 L299.4,713.7 L300.7,708.2 L302.0,710.7 L303.3,703.0 L303.8,703.8 L304.6,705.1 L305.9,710.0 L307.2,707.6 L308.5,714.0 L309.8,709.8 L311.1,714.9 L312.4,717.5 L313.7,722.5 L314.4,718.7 L315.0,715.2 L316.3,717.9 L317.6,710.6 L318.9,707.6 L320.2,712.3 L321.5,706.2 L322.8,705.9 L324.1,698.7 L325.4,698.7 L326.7,696.8 L327.1,695.5 L328.0,698.2 L329.3,703.6 L330.6,708.6 L331.9,708.0 L333.2,710.0 L333.5,718.7 L334.5,710.2 L335.8,712.8 L337.1,710.3 L338.4,716.2 L339.7,708.9 L341.0,715.7 L342.3,707.5 L343.6,708.7 L344.9,714.3 L346.2,709.0 L347.5,705.5 L348.8,709.3 L350.1,709.7 L351.4,707.1 L352.6,705.8 L352.7,711.3 L354.0,705.5 L355.3,706.9 L356.6,709.2 L357.9,711.8 L359.2,710.0 L360.5,705.8 L361.8,707.6 L363.1,711.6 L364.4,707.5 L365.7,708.8 L367.0,712.1 L368.3,708.1 L369.6,712.3 L370.9,714.8 L372.2,703.3 L373.5,707.5 L373.8,712.8 L374.8,708.2 L376.1,710.9 L377.4,712.3 L377.5,706.4 L378.7,699.4 L380.0,693.0 L381.3,683.7 L381.7,680.7 L382.6,686.0 L383.9,698.4 L385.2,702.6 L385.5,708.1 L386.5,709.1 L387.8,709.3 L388.7,707.8 L389.1,710.7 L390.4,711.0 L391.7,705.8 L393.0,703.1 L394.3,711.0 L395.6,710.4 L396.9,709.7 L398.2,708.6 L399.5,704.0 L400.8,706.9 L402.1,707.3 L403.4,706.0 L404.7,705.9 L406.0,704.0 L407.3,701.1 L408.6,702.4 L409.9,705.9 L411.2,702.3 L412.5,703.6 L413.8,699.5 L415.1,701.8 L416.4,704.9 L417.7,699.3 L419.0,701.7 L420.3,705.3 L421.6,701.2 L422.9,697.0 L424.2,696.6 L424.8,698.3 L425.5,696.0 L426.8,702.0 L428.1,697.9 L429.4,695.3 L430.7,696.0 L432.0,692.1 L432.5,695.1 L433.3,692.0 L434.6,696.4 L435.9,692.7 L437.2,692.0 L438.5,693.1 L439.8,694.3 L441.1,695.5 L442.4,690.2 L443.7,684.9 L445.0,690.1 L446.3,693.6 L447.6,696.0 L448.9,688.3 L450.2,695.3 L451.5,691.5 L452.8,689.3 L454.1,688.8 L455.4,689.8 L456.7,691.6 L457.3,688.3 L458.0,686.8 L459.3,690.2 L460.6,686.3 L461.9,686.7 L463.2,690.3 L464.5,689.3 L465.8,687.6 L467.1,686.1 L468.4,679.3 L469.7,681.5 L471.0,682.9 L472.3,682.8 L473.6,681.8 L474.9,684.0 L476.2,678.0 L476.4,684.7 L477.5,679.7 L478.8,675.3 L480.1,675.7 L481.4,670.1 L482.2,669.5 L482.7,670.3 L484.0,672.9 L485.3,669.0 L486.6,673.0 L487.9,673.7 L489.2,673.7 L489.8,676.4 L490.5,678.8 L491.8,681.0 L493.1,681.5 L494.4,675.3 L495.7,679.2 L497.0,678.8 L498.3,673.0 L499.6,673.2 L500.9,681.3 L502.2,679.0 L503.5,673.3 L504.8,678.2 L505.1,677.8 L506.1,676.8 L507.4,675.8 L508.7,675.7 L510.0,676.5 L511.3,674.5 L512.6,677.8 L513.9,673.2 L514.7,677.8 L515.2,672.2 L516.5,670.8 L517.8,670.2 L519.1,679.2 L520.4,671.4 L520.6,671.9 L521.7,662.7 L522.6,654.8 L523.0,657.4 L524.3,667.5 L524.6,664.6 L525.6,671.7 L526.9,671.6 L528.2,671.7 L529.5,675.1 L530.0,670.4 L530.8,672.5 L532.1,675.2 L533.4,673.4 L534.7,674.1 L536.0,668.0 L537.3,674.6 L538.6,670.7 L539.9,670.9 L541.2,673.0 L542.5,675.5 L543.8,677.2 L545.1,678.3 L545.2,677.6 L546.4,673.7 L547.7,677.1 L549.0,671.0 L550.3,671.8 L551.6,677.8 L552.9,674.2 L554.2,671.4 L555.5,670.1 L556.8,673.5 L558.1,673.9 L559.4,672.2 L560.7,675.0 L562.0,675.2 L563.3,669.7 L564.6,676.7 L565.9,673.4 L567.2,666.8 L568.5,666.3 L569.8,666.5 L571.1,672.5 L572.0,666.4 L572.4,670.0 L573.7,666.9 L575.0,667.7 L576.3,670.2 L577.6,670.2 L578.9,667.0 L580.2,672.2 L581.5,670.6 L582.8,669.1 L584.1,666.8 L585.4,668.7 L586.7,667.3 L588.0,667.8 L589.3,670.4 L590.6,669.4 L591.9,670.5 L593.2,666.1 L594.5,666.6 L595.8,664.3 L597.1,665.1 L598.4,663.3 L599.7,664.9 L600.6,663.9 L601.0,661.3 L602.3,667.6 L603.6,663.0 L604.9,666.4 L606.2,663.2 L607.5,666.6 L608.8,662.1 L610.1,667.5 L611.4,668.6 L612.7,668.4 L614.0,665.3 L615.3,667.2 L616.6,664.5 L617.9,661.8 L619.2,665.4 L620.5,666.3 L621.8,664.8 L623.1,665.5 L624.4,669.6 L625.7,661.1 L627.0,668.1 L628.3,667.4 L629.3,665.7 L629.6,671.1 L630.9,668.5 L632.2,661.3 L633.5,662.4 L634.8,666.5 L636.1,662.0 L637.4,668.0 L638.7,664.0 L640.0,665.4 L641.3,666.3 L642.6,666.7 L643.9,664.1 L645.2,665.7 L646.5,658.3 L647.8,662.8 L648.4,667.1 L649.1,661.1 L650.4,662.5 L651.7,670.8 L653.0,664.1 L654.3,665.8 L655.6,666.0 L656.9,666.3 L658.2,661.6 L659.5,666.4 L660.8,663.3 L662.1,659.0 L663.4,665.0 L664.7,663.2 L666.0,659.3 L667.3,659.3 L668.6,664.1 L669.9,664.1 L671.2,661.6 L672.5,660.5 L673.8,660.0 L675.1,659.6 L676.4,659.9 L677.1,657.6 L677.7,658.3 L679.0,661.1 L680.3,656.0 L681.6,654.6 L682.8,651.0 L682.9,651.2 L684.2,654.6 L685.5,655.3 L686.8,660.1 L687.0,666.2 L688.1,655.5 L689.4,657.2 L690.7,658.3 L692.0,660.1 L693.3,657.3 L694.6,659.0 L695.9,661.0 L696.2,654.8 L697.2,659.4 L698.5,654.7 L699.8,653.6 L701.1,656.4 L702.4,658.0 L703.7,657.4 L705.0,655.0 L706.3,657.6 L707.6,659.9 L708.9,660.1 L710.2,659.9 L711.0,652.6 L711.5,654.0 L712.8,650.7 L714.1,651.0 L715.3,647.0 L715.4,647.2 L716.7,648.9 L718.0,650.2 L719.0,656.6 L719.3,654.1 L720.6,659.4 L721.9,656.2 L723.2,656.3 L724.5,660.1 L724.9,661.7 L725.8,658.7 L727.1,656.2 L728.4,660.1 L729.7,660.9 L731.0,661.2 L732.3,661.4 L733.6,654.3 L734.9,655.7 L736.2,659.9 L737.5,652.6 L738.8,654.1 L740.1,659.5 L741.4,657.1 L742.7,655.7 L744.0,660.1 L745.3,650.2 L746.6,651.2 L747.9,654.8 L749.2,655.6 L750.5,650.7 L751.1,653.3 L751.8,650.8 L753.1,645.8 L754.4,648.1 L755.7,646.3 L756.0,649.2 L757.0,627.2 L758.3,606.6 L759.6,579.4 L760.6,560.3 L760.9,566.1 L762.2,590.7 L763.5,615.0 L764.8,638.7 L765.0,638.5 L766.1,640.5 L767.4,652.1 L768.1,645.3 L768.7,653.9 L770.0,654.4 L771.3,652.9 L772.6,653.9 L773.9,653.7 L775.2,656.5 L776.5,655.5 L776.6,663.1 L777.8,658.6 L779.1,656.0 L780.4,649.3 L781.7,645.9 L782.9,643.6 L783.0,639.4 L784.3,640.6 L785.6,648.3 L786.9,650.0 L788.2,651.6 L789.5,647.8 L790.8,655.2 L792.1,651.3 L793.4,653.1 L793.5,652.6 L794.7,655.3 L796.0,651.5 L797.3,654.2 L798.6,649.2 L799.9,647.1 L801.2,652.4 L802.5,645.6 L803.8,646.8 L805.1,647.5 L806.4,648.8 L807.7,647.1 L809.0,645.2 L810.3,648.6 L811.6,643.5 L812.9,643.6 L814.2,648.1 L814.8,648.5 L815.5,643.1 L816.8,646.5 L818.1,646.6 L819.4,649.8 L820.7,653.5 L822.0,645.0 L823.3,643.5 L824.6,645.5 L825.9,649.3 L827.2,647.3 L828.5,650.5 L829.8,648.0 L831.1,645.0 L832.4,654.9 L833.7,649.0 L833.9,652.0 L835.0,641.2 L836.3,638.4 L837.6,628.3 L838.9,621.4 L840.2,614.7 L841.5,613.7 L842.8,605.6 L844.1,597.5 L845.4,606.9 L846.7,615.3 L848.0,625.1 L849.3,633.1 L849.8,635.0 L850.6,634.6 L851.9,624.7 L853.2,620.3 L854.5,610.1 L855.8,599.9 L856.2,597.5 L857.1,603.2 L858.4,615.6 L859.7,622.8 L861.0,627.6 L862.3,643.9 L863.6,653.1 L864.9,643.9 L866.2,643.9 L867.5,643.3 L868.8,638.6 L870.1,638.0 L871.4,627.8 L872.7,632.5 L874.0,623.4 L874.2,625.8 L875.3,630.2 L876.6,621.9 L877.9,628.2 L879.2,622.9 L880.5,621.4 L881.8,626.1 L883.1,627.9 L883.8,626.0 L884.4,633.6 L885.7,625.9 L887.0,633.4 L888.3,636.3 L889.6,636.9 L890.9,644.3 L891.2,643.7 L892.2,640.8 L893.5,628.9 L894.8,620.8 L896.1,613.4 L897.4,611.1 L898.7,597.7 L899.7,591.6 L900.0,595.5 L901.3,589.1 L902.6,576.3 L903.9,573.0 L905.0,566.7 L905.2,568.0 L906.5,578.0 L907.8,591.2 L909.1,600.1 L910.3,602.4 L910.4,602.0 L911.7,612.3 L913.0,616.0 L914.3,623.9 L915.6,630.5 L916.9,635.7 L918.2,640.0 L918.8,648.4 L919.5,649.8 L920.8,646.2 L922.1,645.7 L923.4,639.3 L924.7,641.1 L926.0,638.6 L927.3,637.1 L928.6,638.0 L929.9,636.8 L931.2,634.0 L931.5,638.6 L932.5,632.3 L933.8,641.1 L935.1,635.3 L936.4,637.9 L937.7,645.3 L939.0,645.3 L940.3,641.3 L941.6,642.9 L942.2,643.4 L942.9,643.8 L944.2,642.1 L945.5,647.8 L946.8,643.2 L948.1,640.7 L949.4,646.4 L950.7,640.9 L952.0,642.7 L953.3,645.2 L954.6,637.0 L955.9,642.4 L957.2,639.2 L958.5,637.1 L959.2,635.2 L959.8,633.8 L961.1,640.1 L962.4,637.7 L963.7,636.6 L965.0,644.8 L966.3,639.7 L967.6,644.9 L968.9,640.1 L970.2,646.7 L971.5,641.6 L972.8,646.5 L974.1,645.5 L975.4,653.3 L976.7,650.3 L978.0,647.9 L978.7,645.7 L979.3,645.6 L980.6,646.6 L981.9,646.6 L983.2,643.0 L984.5,644.8 L985.8,648.1 L987.1,641.0 L988.4,646.9 L989.7,645.6 L991.0,645.7 L992.3,639.3 L993.6,636.9 L994.9,643.7 L996.2,639.6 L997.5,639.1 L997.8,635.2 L998.8,636.6 L1000.1,641.2 L1001.4,642.4 L1002.7,634.8 L1004.0,635.3 L1005.3,638.6 L1006.6,643.3 L1007.9,636.2 L1009.2,638.2 L1010.5,640.1 L1011.8,639.2 L1013.1,635.2 L1014.4,639.1 L1015.7,642.8 L1017.0,643.1 L1018.3,640.8 L1019.6,643.0 L1020.9,641.9 L1022.2,641.3 L1023.5,638.1 L1024.8,638.5 L1026.1,640.0 L1027.4,640.2 L1028.7,643.9 L1030.0,644.6 L1031.3,641.1 L1032.6,638.8 L1033.9,640.3 L1035.2,637.1 L1036.5,636.9 L1037.8,640.6 L1039.1,641.6 L1040.4,644.0 L1041.7,644.0 L1043.0,637.6 L1044.3,638.8 L1045.5,637.3 L1045.6,642.5 L1046.9,636.9 L1048.2,644.6 L1049.5,642.9 L1050.8,638.1 L1052.1,640.3 L1053.4,640.0 L1054.7,637.2 L1056.0,637.6 L1057.3,643.9 L1058.6,640.2 L1059.9,642.1 L1061.2,639.6 L1062.5,638.2 L1063.8,639.3 L1065.1,636.3 L1066.4,642.3 L1067.7,638.0 L1069.0,643.6 L1070.3,643.4 L1071.6,641.1 L1072.9,637.6 L1074.2,641.7 L1075.5,639.7 L1076.8,642.2 L1078.1,637.3 L1079.4,642.7 L1080.7,638.3 L1082.0,641.2 L1083.3,635.9 L1084.6,639.0 L1085.9,638.6 L1087.2,634.7 L1088.5,641.0 L1089.8,634.3 L1091.1,639.0 L1092.4,636.9 L1093.7,641.4 L1095.0,641.1 L1096.3,639.3 L1097.6,636.0 L1098.9,641.1 L1100.2,634.5 L1101.5,638.1 L1102.8,635.1 L1104.1,641.6 L1105.4,639.9 L1106.7,642.0 L1108.0,641.6 L1109.3,636.0 L1110.6,638.9 L1111.9,638.1 L1113.2,637.8 L1114.5,636.7 L1115.8,639.4 L1117.1,636.2 L1117.2,640.4 L1118.4,636.4 L1119.7,638.7 L1121.0,640.1 L1122.3,638.7 L1123.6,632.1 L1124.9,634.3 L1126.2,628.7 L1127.5,633.7 L1128.8,633.0 L1130.1,640.5 L1131.4,635.5 L1132.7,640.6 L1134.0,636.3 L1135.3,633.6 L1136.6,631.9 L1137.9,632.3 L1139.2,638.7 L1140.5,637.7 L1141.8,631.5 L1143.1,637.3 L1144.4,637.5 L1145.7,635.5 L1147.0,631.4 L1148.3,638.5 L1149.6,636.9 L1150.9,634.3 L1152.2,633.3 L1153.5,631.3 L1154.8,631.0 L1156.1,636.0 L1157.4,631.6 L1158.7,631.4 L1160.0,636.9 L1161.3,632.4 L1162.6,633.7 L1163.9,632.0 L1165.2,628.7 L1166.5,629.7 L1167.8,630.6 L1169.1,635.5 L1170.4,634.2 L1171.7,633.8 L1173.0,628.6 L1174.3,634.5 L1175.6,629.4 L1176.9,627.0 L1178.2,628.9 L1179.5,630.8 L1180.8,637.0 L1182.1,636.6 L1183.4,636.4 L1184.7,638.1 L1186.0,640.4 L1187.3,639.4 L1188.6,637.4 L1188.8,641.2 L1189.9,635.8 L1191.2,634.2 L1192.5,637.5 L1193.8,639.7 L1195.1,633.5 L1196.4,640.9 L1197.7,634.2 L1199.0,639.9 L1200.3,639.6 L1201.6,636.7 L1202.9,640.4 L1204.2,640.5 L1205.5,639.1 L1206.8,634.9 L1208.1,635.8 L1209.4,638.9 L1210.7,635.9 L1212.0,633.8 L1213.3,636.8 L1214.6,631.6 L1215.9,633.8 L1217.2,631.5 L1218.5,632.5 L1219.8,637.6 L1221.1,631.8 L1222.4,627.3 L1223.7,633.6 L1225.0,629.6 L1226.3,631.4 L1227.6,632.1 L1228.9,631.9 L1230.2,634.4 L1231.5,630.2 L1232.8,627.9 L1234.1,635.5 L1235.4,627.7 L1236.6,627.7 L1236.7,627.5 L1238.0,635.0 L1239.3,627.6 L1240.6,630.3 L1241.9,631.4 L1243.2,634.0 L1244.5,631.7 L1245.8,630.6 L1247.1,631.8 L1248.4,634.5 L1249.7,627.0 L1251.0,632.5 L1252.3,631.3 L1253.6,633.9 L1254.9,627.3 L1256.2,633.3 L1257.5,631.5 L1258.8,629.8 L1260.1,632.1 L1261.4,630.7 L1262.7,633.6 L1264.0,627.5 L1265.3,627.3 L1266.6,625.8 L1267.9,632.3 L1269.2,632.0 L1270.5,629.5 L1271.8,627.5 L1273.1,627.2 L1274.4,626.2 L1275.7,630.2 L1277.0,629.8 L1278.3,625.3 L1279.6,628.7 L1280.9,625.3 L1282.2,625.5 L1283.5,632.0 L1284.8,625.5 L1286.1,632.0 L1287.4,630.2 L1288.7,626.9 L1290.0,632.7 L1291.3,632.1 L1292.6,629.5 L1293.9,632.7 L1295.2,625.7 L1296.5,627.4 L1297.8,624.3 L1299.1,622.4 L1300.4,624.2 L1301.7,628.1 L1303.0,630.8 L1304.3,625.2 L1305.6,629.4 L1306.9,626.1 L1308.2,623.7 L1308.3,624.6 L1309.5,627.9 L1310.8,623.2 L1312.1,623.6 L1313.4,627.1 L1314.7,618.9 L1315.4,621.7 L1316.0,620.1 L1317.3,620.2 L1318.6,621.8 L1319.9,620.8 L1321.2,618.2 L1322.5,617.5 L1323.8,623.6 L1325.1,617.0 L1326.4,619.7 L1327.7,617.0 L1329.0,623.7 L1330.3,617.6 L1331.6,620.3 L1332.9,624.2 L1334.2,618.5 L1335.5,623.1 L1336.8,621.6 L1338.1,618.9 L1339.4,622.9 L1340.7,620.5 L1342.0,617.1 L1343.3,619.0 L1344.6,619.4 L1345.9,621.9 L1347.2,617.1 L1348.5,621.4 L1349.8,624.8 L1351.1,616.8 L1352.4,625.0 L1353.7,624.4 L1355.0,620.7 L1356.0,620.3 L1356.3,619.5 L1357.6,618.1 L1358.9,620.8 L1360.2,619.6 L1361.5,624.3 L1362.8,617.6 L1364.1,621.0 L1365.4,616.5 L1366.7,615.4 L1368.0,622.4 L1369.3,619.8 L1370.6,620.6 L1371.9,622.2 L1373.2,614.3 L1374.5,612.9 L1375.8,619.8 L1377.1,613.8 L1377.5,617.5 L1378.4,614.5 L1379.7,615.8 L1381.0,618.6 L1382.3,616.6 L1383.6,619.1 L1384.7,625.3 L1384.9,625.7 L1386.2,619.9 L1387.5,613.8 L1388.8,607.0 L1389.5,603.9 L1390.1,605.1 L1391.4,607.3 L1392.7,611.1 L1394.0,610.8 L1395.3,621.2 L1396.6,624.9 L1397.9,619.4 L1399.2,618.2 L1400.5,623.4 L1401.8,616.3 L1403.1,622.5 L1404.4,622.3 L1405.7,622.8 L1407.0,620.8 L1408.3,616.2 L1409.6,621.8 L1410.9,621.5 L1412.2,621.8 L1413.5,617.6 L1414.8,620.2 L1416.1,620.0 L1417.4,615.8 L1418.7,618.7 L1420.0,622.1 L1421.3,622.2 L1422.6,618.5 L1423.9,616.6 L1425.2,617.8 L1426.5,617.1 L1427.8,623.1 L1429.1,624.5 L1430.4,619.0 L1431.7,623.4 L1433.0,622.5 L1434.3,623.7 L1435.6,618.5 L1436.9,617.5 L1438.2,622.2 L1439.5,616.9 L1440.8,620.1 L1442.1,623.5 L1443.4,618.7 L1444.7,624.5 L1446.0,620.9 L1447.3,624.8 L1448.6,617.5 L1449.9,617.8 L1451.2,618.5 L1451.6,622.1 L1452.5,619.9 L1453.8,620.9 L1455.1,620.0 L1456.4,617.9 L1457.7,620.6 L1459.0,617.5 L1460.3,619.2 L1461.6,618.3 L1462.9,616.8 L1464.2,617.6 L1465.5,615.1 L1466.8,620.9 L1468.1,616.7 L1469.4,621.5 L1470.7,619.7 L1472.0,619.3 L1473.3,618.1 L1474.6,614.5 L1475.9,617.6 L1477.2,617.0 L1478.5,622.0 L1479.8,615.5 L1481.1,619.2 L1482.4,621.4 L1483.7,615.1 L1485.0,622.0 L1486.3,615.8 L1487.6,618.6 L1488.9,621.7 L1490.2,618.5 L1491.5,618.5 L1492.8,616.4 L1494.1,614.6 L1495.4,615.0 L1496.7,618.6 L1498.0,622.0 L1499.3,613.8 L1500.6,619.7 L1501.9,617.1 L1503.2,615.5 L1504.5,614.9 L1505.8,617.1 L1507.1,614.5 L1508.4,617.9 L1509.7,619.4 L1511.0,617.2 L1512.3,621.2 L1513.6,615.0 L1514.9,615.1 L1516.2,614.1 L1517.5,614.8 L1518.8,619.8 L1520.1,620.1 L1521.4,615.4 L1522.7,620.5 L1523.3,619.1 L1524.0,620.0 L1525.3,616.4 L1526.6,613.1 L1527.9,616.6 L1529.2,612.6 L1530.5,614.5 L1531.8,612.8 L1533.1,616.2 L1534.4,614.7 L1535.7,617.5 L1537.0,611.6 L1538.3,617.5 L1539.6,613.1 L1540.9,619.8 L1542.2,615.4 L1543.5,613.8 L1544.8,615.7 L1546.1,612.1 L1547.4,618.5 L1548.7,616.7 L1550.0,618.1 L1551.3,614.0 L1552.6,615.9 L1553.9,618.7 L1555.2,614.4 L1556.5,612.6 L1557.8,616.6 L1559.1,618.6 L1560.4,613.4 L1561.7,618.6 L1563.0,615.8 L1564.3,611.9 L1565.6,614.9 L1566.9,613.1 L1568.2,611.7 L1569.5,614.6 L1570.8,618.9 L1572.1,615.9 L1573.4,612.5 L1574.7,617.0 L1576.0,618.4 L1577.3,617.5 L1578.6,614.6 L1579.9,615.7 L1581.2,616.8 L1582.5,611.7 L1583.8,612.8 L1585.1,612.9 L1586.4,615.8 L1587.7,616.2 L1589.0,615.7 L1590.3,616.4 L1591.6,616.7 L1592.9,622.5 L1594.2,617.0 L1595.0,612.7 L1595.5,617.6 L1596.8,612.9 L1598.1,613.1 L1599.4,613.4 L1600.7,613.6 L1602.0,611.9 L1603.3,613.2 L1604.6,612.7 L1605.9,605.2 L1606.9,605.9 L1607.2,609.9 L1608.5,609.9 L1609.8,601.6 L1611.1,604.9 L1612.4,602.0 L1613.7,606.7 L1615.0,603.7 L1616.3,602.1 L1617.6,604.2 L1618.9,607.3 L1620.2,599.4 L1621.5,602.5 L1622.8,601.1 L1623.6,601.9 L1624.1,600.3 L1625.4,606.7 L1626.7,600.7 L1628.0,602.2 L1629.3,609.8 L1630.6,605.0 L1631.9,609.7 L1633.2,613.5 L1634.5,606.3 L1635.8,614.4 L1637.1,610.5 L1638.4,611.1 L1639.7,611.9 L1641.0,609.4 L1642.3,606.9 L1643.6,606.4 L1644.9,613.2 L1646.2,611.5 L1647.5,613.6 L1648.8,609.4 L1650.1,606.6 L1651.4,609.4 L1652.7,610.4 L1654.0,609.6 L1655.3,612.1 L1656.6,609.9 L1657.9,605.8 L1659.2,607.7 L1660.5,615.0 L1661.8,607.7 L1663.1,608.6 L1664.4,605.3 L1665.7,609.3 L1666.6,606.1 L1667.0,606.7 L1668.3,606.8 L1669.6,604.6 L1670.9,613.8 L1672.2,605.5 L1673.5,604.6 L1674.8,607.8 L1676.1,604.1 L1677.4,600.8 L1678.5,602.5 L1678.7,606.5 L1680.0,606.3 L1681.3,602.6 L1682.6,602.6 L1683.9,599.8 L1685.2,599.6 L1686.5,598.5 L1687.8,597.8 L1689.1,597.4 L1690.4,599.5 L1691.7,600.3 L1693.0,600.3 L1694.3,598.4 L1695.6,602.3 L1696.9,594.5 L1698.2,602.8 L1699.5,601.8 L1700.8,596.8 L1702.1,600.4 L1702.4,594.4 L1703.4,595.8 L1704.7,597.7 L1706.0,599.4 L1707.3,603.5 L1708.6,595.8 L1709.9,601.4 L1711.2,603.8 L1712.5,608.0 L1713.8,603.0 L1714.4,607.7 L1715.1,602.0 L1716.4,602.9 L1717.7,607.8 L1719.0,606.4 L1720.3,608.8 L1721.6,602.1 L1722.9,604.2 L1724.2,603.1 L1725.5,605.3 L1726.8,605.6 L1728.1,610.1 L1729.4,604.9 L1730.7,612.5 L1732.0,603.1 L1733.3,608.9 L1734.6,606.6 L1735.9,610.6 L1737.2,609.8 L1738.5,604.8 L1739.8,605.0 L1741.1,602.5 L1742.4,603.8 L1743.7,611.5 L1745.0,603.1 L1746.3,604.0 L1747.6,613.0 L1748.9,605.5 L1750.2,602.5 L1751.5,605.3 L1752.8,606.9 L1754.1,603.9 L1755.4,608.0 L1756.7,605.9 L1758.0,602.9 L1759.3,601.9 L1760.6,605.7 L1761.9,607.7 L1762.1,607.5 L1763.2,604.8 L1764.5,605.8 L1765.8,601.8 L1767.1,600.4 L1768.4,604.3 L1769.7,598.6 L1771.0,599.0 L1772.3,598.3 L1773.6,604.9 L1774.9,597.8 L1776.2,599.9 L1777.5,597.1 L1778.8,606.0 L1780.1,594.7 L1781.4,600.7 L1782.7,595.8 L1784.0,599.6 L1785.3,593.5 L1786.6,598.7 L1787.9,598.5 L1789.2,593.1 L1790.5,598.0 L1791.8,595.3 L1793.1,596.7 L1794.4,596.2 L1795.7,589.0 L1796.8,588.8 L1797.0,593.6 L1798.3,598.2 L1799.6,601.2 L1800.9,596.4 L1802.2,600.2 L1803.5,607.2 L1804.8,603.5 L1805.1,602.4 L1806.1,606.6 L1807.4,603.5 L1808.7,605.0 L1810.0,609.5 L1811.3,602.1 L1812.6,606.5 L1813.9,608.4 L1815.2,608.9 L1816.5,601.3 L1817.8,603.6 L1819.1,607.0 L1820.4,607.8 L1821.7,606.8 L1823.0,604.4 L1824.0,605.1" fill="none" stroke="#00AE67" stroke-width="7.5" stroke-linejoin="round" stroke-linecap="butt" shape-rendering="crispEdges"/>
<rect x="403.2" y="1241" width="8.6" height="20" fill="#000"/>
<rect x="640.2" y="1241" width="8.6" height="20" fill="#000"/>
<rect x="875.2" y="1241" width="8.6" height="20" fill="#000"/>
<rect x="1111.1" y="1241" width="8.6" height="20" fill="#000"/>
<rect x="1348.1" y="1241" width="8.6" height="20" fill="#000"/>
<rect x="1583.1" y="1241" width="8.6" height="20" fill="#000"/>
<text transform="translate(152.73,1317.60) scale(0.9198,1)" font-family='"Liberation Serif", "Times New Roman", serif' font-size="52.8"><tspan font-size="52.8" dy="0">13</tspan></text>
<text transform="translate(380.29,1317.60) scale(0.9542,1)" font-family='"Liberation Serif", "Times New Roman", serif' font-size="52.8"><tspan font-size="52.8" dy="0">23</tspan></text>
<text transform="translate(619.34,1317.60) scale(0.9355,1)" font-family='"Liberation Serif", "Times New Roman", serif' font-size="52.8"><tspan font-size="52.8" dy="0">33</tspan></text>
<text transform="translate(856.82,1317.60) scale(0.9496,1)" font-family='"Liberation Serif", "Times New Roman", serif' font-size="52.8"><tspan font-size="52.8" dy="0">43</tspan></text>
<text transform="translate(1089.30,1317.60) scale(0.9440,1)" font-family='"Liberation Serif", "Times New Roman", serif' font-size="52.8"><tspan font-size="52.8" dy="0">53</tspan></text>
<text transform="translate(1325.06,1317.60) scale(0.9449,1)" font-family='"Liberation Serif", "Times New Roman", serif' font-size="52.8"><tspan font-size="52.8" dy="0">63</tspan></text>
<text transform="translate(1559.69,1317.60) scale(0.9522,1)" font-family='"Liberation Serif", "Times New Roman", serif' font-size="52.8"><tspan font-size="52.8" dy="0">73</tspan></text>
<text transform="translate(1799.66,1317.60) scale(0.9133,1)" font-family='"Liberation Serif", "Times New Roman", serif' font-size="52.8"><tspan font-size="52.8" dy="0">83</tspan></text>
<text transform="translate(822.34,1409.20) scale(0.9815,1)" font-family='"Liberation Serif", "Times New Roman", serif' font-size="71"><tspan font-size="71" dy="0">2θ (degree)</tspan></text>
<g transform="translate(92,854) rotate(-90)"><text transform="translate(-2.49,0.00) scale(0.9700,1)" font-family='"Liberation Serif", "Times New Roman", serif' font-size="71"><tspan font-size="71" dy="0">Intensity (a.u.)</tspan></text></g>
<line x1="1260" y1="96" x2="1377" y2="96" stroke="#00AE67" stroke-width="6" stroke-linecap="round"/>
<text transform="translate(1390,111.7) scale(0.978,1)" font-family='"Liberation Serif", "Times New Roman", serif' font-size="52.5">Al-Zn-Si-0.2Mg</text>
<line x1="1260" y1="160" x2="1377" y2="160" stroke="#026BE0" stroke-width="6" stroke-linecap="round"/>
<text transform="translate(1390,175.7) scale(0.978,1)" font-family='"Liberation Serif", "Times New Roman", serif' font-size="52.5">Al-Zn-Si-0.15Mg</text>
<line x1="1260" y1="224" x2="1377" y2="224" stroke="#FF4045" stroke-width="6" stroke-linecap="round"/>
<text transform="translate(1390,239.7) scale(0.978,1)" font-family='"Liberation Serif", "Times New Roman", serif' font-size="52.5">Al-Zn-Si-0.05Mg</text>
<line x1="1260" y1="288" x2="1377" y2="288" stroke="#505050" stroke-width="6" stroke-linecap="round"/>
<text transform="translate(1390,303.7) scale(0.978,1)" font-family='"Liberation Serif", "Times New Roman", serif' font-size="52.5">Al-Zn-Si</text>
<text transform="translate(212.22,125.79) scale(0.8156,1)" font-family='"DejaVu Sans", sans-serif' font-size="34.22" fill="#000">◆</text>
<text transform="translate(239.59,129.70) scale(0.9538,1)" font-family='"Liberation Serif", "Times New Roman", serif' font-size="46"><tspan font-size="46" font-weight="bold" dy="0">-</tspan><tspan font-size="46" dy="0">Al</tspan></text>
<text transform="translate(201.96,192.79) scale(1.0694,1)" font-family='"DejaVu Math TeX Gyre", serif' font-size="42.39" fill="#000" stroke="#fff" stroke-width="1.0">∇</text>
<text transform="translate(238.04,192.80) scale(0.9873,1)" font-family='"Liberation Serif", "Times New Roman", serif' font-size="46"><tspan font-size="46" font-weight="bold" dy="0">-</tspan><tspan font-size="46" dy="0">MgAl</tspan><tspan font-size="31" dy="12">2</tspan><tspan font-size="46" dy="-12">O</tspan><tspan font-size="31" dy="12">4</tspan></text>
<text transform="translate(205.35,264.90) scale(0.9816,1)" font-family='"Liberation Serif", "Times New Roman", serif' font-size="46"><tspan font-size="46" dy="0">O</tspan><tspan font-size="46" font-weight="bold" dy="0">-</tspan><tspan font-size="46" dy="0">Al</tspan><tspan font-size="31" dy="12">2</tspan><tspan font-size="46" dy="-12">O</tspan><tspan font-size="31" dy="12">3</tspan></text>
<text transform="translate(208.38,337.41) scale(1.1496,1)" font-family='"Liberation Serif", "Times New Roman", serif' font-size="44.01" fill="#000">♥</text>
<text transform="translate(240.72,337.90) scale(0.9864,1)" font-family='"Liberation Serif", "Times New Roman", serif' font-size="46"><tspan font-size="46" dy="0">-</tspan><tspan font-size="46" dy="0">Al</tspan><tspan font-size="31" dy="12">2</tspan><tspan font-size="46" dy="-12">SiO</tspan><tspan font-size="31" dy="12">5</tspan></text>
<text transform="translate(205.48,409.80) scale(1.0537,1)" font-family='"DejaVu Sans", sans-serif' font-size="36.79" fill="#000">♣</text>
<text transform="translate(241.52,410.40) scale(1.0102,1)" font-family='"Liberation Serif", "Times New Roman", serif' font-size="46"><tspan font-size="46" dy="0">–</tspan><tspan font-size="46" dy="0">SiO</tspan><tspan font-size="31" dy="12">2</tspan></text>
<text transform="translate(570.04,135.30) scale(1.1601,1)" font-family='"DejaVu Sans", sans-serif' font-size="36.38" fill="#000">♠</text>
<text transform="translate(606.71,135.00) scale(0.9945,1)" font-family='"Liberation Serif", "Times New Roman", serif' font-size="46"><tspan font-size="46" dy="0">–NaAlSiO</tspan><tspan font-size="31" dy="12">4</tspan></text>
<text transform="translate(570.27,204.58) scale(0.9940,1)" font-family='"Liberation Serif", "Times New Roman", serif' font-size="38.59" fill="#000">●</text>
<text transform="translate(591.64,206.80) scale(0.9848,1)" font-family='"Liberation Serif", "Times New Roman", serif' font-size="46"><tspan font-size="46" font-weight="bold" dy="0">-</tspan><tspan font-size="46" dy="0">Al(OH)</tspan><tspan font-size="31" dy="12">3</tspan></text>
<text transform="translate(572.74,279.00) scale(0.8995,1)" font-family='"Liberation Serif", "Times New Roman", serif' font-size="44.94" fill="#000" stroke="#fff" stroke-width="1.0">◊</text>
<text transform="translate(594.21,278.50) scale(0.9991,1)" font-family='"Liberation Serif", "Times New Roman", serif' font-size="46"><tspan font-size="46" dy="0">–Mg(OH)</tspan><tspan font-size="31" dy="12">2</tspan></text>
<text transform="translate(568.06,350.64) scale(1.0281,1)" font-family='"DejaVu Math TeX Gyre", serif' font-size="50.31" fill="#000" stroke="#fff" stroke-width="1.4">⊗</text>
<text transform="translate(607.31,351.80) scale(0.9939,1)" font-family='"Liberation Serif", "Times New Roman", serif' font-size="46"><tspan font-size="46" dy="0">–Mg</tspan><tspan font-size="31" dy="12">2</tspan><tspan font-size="46" dy="-12">Al</tspan><tspan font-size="31" dy="12">4</tspan><tspan font-size="46" dy="-12">Si</tspan><tspan font-size="31" dy="12">5</tspan><tspan font-size="46" dy="-12">O</tspan><tspan font-size="31" dy="12">18</tspan></text>
<text transform="translate(279.47,661.20) scale(0.9403,1)" font-family='"Liberation Serif", "Times New Roman", serif' font-size="63.29" fill="#000" stroke="#fff" stroke-width="1.4">◊</text>
<text transform="translate(297.25,687.50) scale(1.1155,1)" font-family='"DejaVu Sans", sans-serif' font-size="48.73" fill="#000">♣</text>
<text transform="translate(362.48,671.53) scale(1.1168,1)" font-family='"Liberation Serif", "Times New Roman", serif' font-size="59.62" fill="#000">♥</text>
<ellipse cx="520.6" cy="630.2" rx="14.6" ry="14.3" fill="none" stroke="#000" stroke-width="2.1"/><path d="M511.9,621.5 L529.3,639.0 M529.3,621.5 L511.9,639.0" stroke="#000" stroke-width="2.1"/>
<text transform="translate(745.69,550.36) scale(0.8037,1)" font-family='"DejaVu Sans", sans-serif' font-size="46.63" fill="#000">◆</text>
<text transform="translate(831.66,589.00) scale(1.0873,1)" font-family='"DejaVu Sans", sans-serif' font-size="50.38" fill="#000">♠</text>
<text transform="translate(885.79,558.58) scale(1.0634,1)" font-family='"DejaVu Math TeX Gyre", serif' font-size="43.21" fill="#000" stroke="#fff" stroke-width="1.0">∇</text>
<text transform="translate(278.36,877.60) scale(0.9566,1)" font-family='"Liberation Serif", "Times New Roman", serif' font-size="64.57" fill="#000" stroke="#fff" stroke-width="1.4">◊</text>
<text transform="translate(301.75,881.80) scale(1.0610,1)" font-family='"DejaVu Sans", sans-serif' font-size="49.55" fill="#000">♣</text>
<text transform="translate(365.80,868.33) scale(1.1100,1)" font-family='"Liberation Serif", "Times New Roman", serif' font-size="59.62" fill="#000">♥</text>
<ellipse cx="525.0" cy="798.8" rx="13.9" ry="14.6" fill="none" stroke="#000" stroke-width="2.1"/><path d="M516.6,790.4 L533.4,807.2 M533.4,790.4 L516.6,807.2" stroke="#000" stroke-width="2.1"/>
<text transform="translate(742.09,792.96) scale(0.8117,1)" font-family='"DejaVu Sans", sans-serif' font-size="45.84" fill="#000">◆</text>
<text transform="translate(831.13,802.40) scale(1.1340,1)" font-family='"DejaVu Sans", sans-serif' font-size="48.45" fill="#000">♠</text>
<text transform="translate(891.09,764.99) scale(1.1096,1)" font-family='"DejaVu Math TeX Gyre", serif' font-size="42.11" fill="#000" stroke="#fff" stroke-width="1.0">∇</text>
<text transform="translate(305.05,1029.90) scale(1.0789,1)" font-family='"DejaVu Sans", sans-serif' font-size="49.55" fill="#000">♣</text>
<text transform="translate(748.89,955.36) scale(0.8174,1)" font-family='"DejaVu Sans", sans-serif' font-size="45.84" fill="#000">◆</text>
<text transform="translate(833.36,979.90) scale(1.1115,1)" font-family='"DejaVu Sans", sans-serif' font-size="49.28" fill="#000">♠</text>
<text transform="translate(889.74,954.59) scale(1.1028,1)" font-family='"DejaVu Math TeX Gyre", serif' font-size="42.80" fill="#000" stroke="#fff" stroke-width="1.0">∇</text>
<text transform="translate(305.23,1203.10) scale(1.0880,1)" font-family='"DejaVu Sans", sans-serif' font-size="49.28" fill="#000">♣</text>
<text transform="translate(365.18,1205.52) scale(1.1038,1)" font-family='"Liberation Serif", "Times New Roman", serif' font-size="60.32" fill="#000">♥</text>
<ellipse cx="526.7" cy="1167.9" rx="13.9" ry="14.6" fill="none" stroke="#000" stroke-width="2.1"/><path d="M518.4,1159.6 L535.0,1176.2 M535.0,1159.6 L518.4,1176.2" stroke="#000" stroke-width="2.1"/>
<text transform="translate(748.89,1129.76) scale(0.8174,1)" font-family='"DejaVu Sans", sans-serif' font-size="45.84" fill="#000">◆</text>
<text transform="translate(836.49,1155.50) scale(1.1049,1)" font-family='"DejaVu Sans", sans-serif' font-size="43.65" fill="#000">♠</text>
<text transform="translate(888.44,1097.19) scale(1.0765,1)" font-family='"DejaVu Math TeX Gyre", serif' font-size="42.25" fill="#000" stroke="#fff" stroke-width="1.0">∇</text>
<text transform="translate(1375.12,1145.15) scale(1.0017,1)" font-family='"Liberation Serif", "Times New Roman", serif' font-size="45.69" fill="#000">O</text>
<text transform="translate(1685.49,1123.11) scale(0.9867,1)" font-family='"Liberation Serif", "Times New Roman", serif' font-size="52.54" fill="#000">●</text>
</svg>
</body></html>
